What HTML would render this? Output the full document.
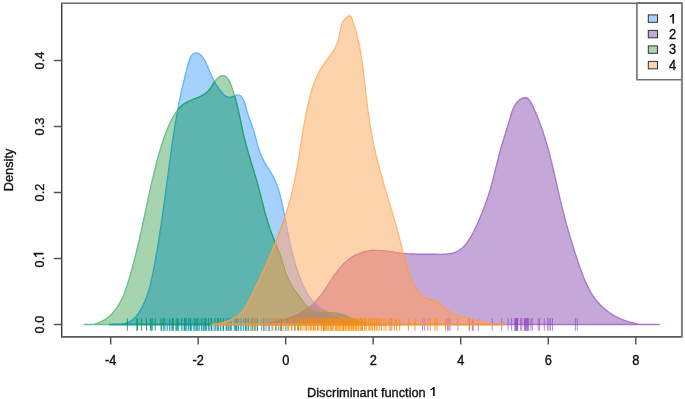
<!DOCTYPE html>
<html><head><meta charset="utf-8"><style>
html,body{margin:0;padding:0;background:#fff;width:685px;height:399px;overflow:hidden}
svg{display:block}
.t{font-family:"Liberation Sans",sans-serif;font-size:12.8px;fill:#111;stroke:#111;stroke-width:0.35px}
svg{will-change:transform;filter:blur(0.3px)}
</style></head><body>
<svg width="685" height="399" viewBox="0 0 685 399">
<defs><path id="pB" d="M109.3,324.5C109.6,324.5 110.6,324.5 111.2,324.5C111.9,324.5 112.5,324.5 113.2,324.5C113.9,324.5 114.5,324.5 115.2,324.5C115.9,324.5 116.6,324.4 117.3,324.4C117.9,324.4 118.6,324.3 119.3,324.2C120.0,324.2 120.7,324.1 121.4,324.0C122.0,323.9 122.7,323.8 123.4,323.7C124.0,323.5 124.7,323.4 125.4,323.2C126.0,323.0 126.7,322.8 127.3,322.6C127.9,322.4 128.5,322.2 129.1,321.9C129.7,321.6 130.3,321.3 130.9,321.0C131.4,320.7 132.0,320.3 132.5,319.9C133.0,319.5 133.5,319.1 134.0,318.7C134.5,318.2 135.0,317.7 135.4,317.3C135.9,316.8 136.3,316.3 136.7,315.7C137.1,315.2 137.5,314.7 137.9,314.1C138.3,313.6 138.7,313.0 139.1,312.4C139.4,311.9 139.8,311.3 140.2,310.7C140.5,310.1 140.8,309.5 141.2,309.0C141.5,308.4 141.8,307.8 142.1,307.2C142.5,306.6 142.8,306.0 143.1,305.4C143.4,304.8 143.6,304.2 143.9,303.6C144.2,303.0 144.5,302.4 144.7,301.8C145.0,301.2 145.3,300.6 145.5,299.9C145.8,299.3 146.0,298.7 146.2,298.1C146.5,297.5 146.7,296.8 146.9,296.2C147.2,295.6 147.4,294.9 147.6,294.3C147.8,293.7 148.0,293.1 148.2,292.4C148.4,291.8 148.6,291.1 148.8,290.5C149.0,289.9 149.2,289.2 149.3,288.6C149.5,287.9 149.7,287.3 149.9,286.7C150.0,286.0 150.2,285.4 150.4,284.7C150.5,284.1 150.7,283.4 150.8,282.8C151.0,282.1 151.1,281.5 151.3,280.8C151.4,280.2 151.6,279.5 151.7,278.9C151.9,278.2 152.0,277.5 152.1,276.9C152.3,276.2 152.4,275.6 152.6,274.9C152.7,274.3 152.8,273.6 153.0,272.9C153.1,272.3 153.2,271.6 153.3,271.0C153.5,270.3 153.6,269.7 153.7,269.0C153.8,268.3 154.0,267.7 154.1,267.0C154.2,266.4 154.3,265.7 154.5,265.0C154.6,264.4 154.7,263.7 154.8,263.1C155.0,262.4 155.1,261.8 155.2,261.1C155.3,260.4 155.4,259.8 155.6,259.1C155.7,258.5 155.8,257.8 155.9,257.1C156.0,256.5 156.1,255.8 156.3,255.2C156.4,254.5 156.5,253.9 156.6,253.2C156.7,252.5 156.8,251.9 156.9,251.2C157.0,250.6 157.2,249.9 157.3,249.2C157.4,248.6 157.5,247.9 157.6,247.3C157.7,246.6 157.8,245.9 157.9,245.3C158.0,244.6 158.1,244.0 158.3,243.3C158.4,242.7 158.5,242.0 158.6,241.3C158.7,240.7 158.8,240.0 158.9,239.4C159.0,238.7 159.1,238.0 159.2,237.4C159.3,236.7 159.4,236.1 159.5,235.4C159.6,234.7 159.7,234.1 159.8,233.4C159.9,232.8 160.0,232.1 160.1,231.4C160.2,230.8 160.3,230.1 160.4,229.5C160.5,228.8 160.6,228.1 160.7,227.5C160.8,226.8 160.9,226.2 161.0,225.5C161.1,224.8 161.2,224.2 161.3,223.5C161.4,222.9 161.5,222.2 161.6,221.6C161.7,220.9 161.8,220.2 161.9,219.6C162.0,218.9 162.1,218.2 162.2,217.6C162.3,216.9 162.4,216.3 162.5,215.6C162.6,214.9 162.7,214.3 162.7,213.6C162.8,213.0 162.9,212.3 163.0,211.6C163.1,211.0 163.2,210.3 163.3,209.7C163.4,209.0 163.5,208.3 163.6,207.7C163.7,207.0 163.8,206.4 163.9,205.7C163.9,205.0 164.0,204.4 164.1,203.7C164.2,203.1 164.3,202.4 164.4,201.7C164.5,201.1 164.6,200.4 164.7,199.7C164.8,199.1 164.8,198.4 164.9,197.8C165.0,197.1 165.1,196.4 165.2,195.8C165.3,195.1 165.4,194.5 165.5,193.8C165.6,193.1 165.7,192.5 165.7,191.8C165.8,191.1 165.9,190.5 166.0,189.8C166.1,189.2 166.2,188.5 166.3,187.8C166.4,187.2 166.4,186.5 166.5,185.9C166.6,185.2 166.7,184.5 166.8,183.9C166.9,183.2 167.0,182.5 167.1,181.9C167.2,181.2 167.2,180.6 167.3,179.9C167.4,179.2 167.5,178.6 167.6,177.9C167.7,177.2 167.8,176.6 167.9,175.9C167.9,175.3 168.0,174.6 168.1,173.9C168.2,173.3 168.3,172.6 168.4,171.9C168.5,171.3 168.6,170.6 168.6,169.9C168.7,169.3 168.8,168.6 168.9,168.0C169.0,167.3 169.1,166.6 169.2,166.0C169.3,165.3 169.4,164.6 169.4,164.0C169.5,163.3 169.6,162.6 169.7,162.0C169.8,161.3 169.9,160.7 170.0,160.0C170.1,159.3 170.2,158.7 170.3,158.0C170.3,157.3 170.4,156.7 170.5,156.0C170.6,155.3 170.7,154.7 170.8,154.0C170.9,153.4 171.0,152.7 171.1,152.0C171.2,151.4 171.3,150.7 171.3,150.0C171.4,149.4 171.5,148.7 171.6,148.0C171.7,147.4 171.8,146.7 171.9,146.0C172.0,145.4 172.1,144.7 172.2,144.1C172.3,143.4 172.4,142.7 172.5,142.1C172.6,141.4 172.7,140.7 172.8,140.1C172.9,139.4 173.0,138.7 173.1,138.1C173.2,137.4 173.2,136.8 173.3,136.1C173.4,135.4 173.5,134.8 173.6,134.1C173.7,133.4 173.8,132.8 173.9,132.1C174.1,131.5 174.2,130.8 174.3,130.1C174.4,129.5 174.5,128.8 174.6,128.1C174.7,127.5 174.8,126.8 174.9,126.2C175.0,125.5 175.1,124.8 175.2,124.2C175.3,123.5 175.4,122.9 175.5,122.2C175.6,121.5 175.7,120.9 175.9,120.2C176.0,119.6 176.1,118.9 176.2,118.3C176.3,117.6 176.4,116.9 176.5,116.3C176.6,115.6 176.8,115.0 176.9,114.3C177.0,113.7 177.1,113.0 177.2,112.3C177.3,111.7 177.5,111.0 177.6,110.4C177.7,109.7 177.8,109.1 178.0,108.4C178.1,107.8 178.2,107.1 178.3,106.5C178.4,105.8 178.6,105.2 178.7,104.5C178.8,103.9 179.0,103.2 179.1,102.6C179.2,101.9 179.3,101.3 179.5,100.6C179.6,100.0 179.7,99.3 179.9,98.7C180.0,98.0 180.1,97.4 180.3,96.7C180.4,96.1 180.6,95.4 180.7,94.8C180.8,94.1 181.0,93.5 181.1,92.8C181.3,92.2 181.4,91.6 181.5,90.9C181.7,90.3 181.8,89.6 182.0,89.0C182.1,88.3 182.3,87.7 182.4,87.0C182.6,86.4 182.7,85.8 182.9,85.1C183.0,84.5 183.2,83.8 183.3,83.2C183.5,82.5 183.7,81.9 183.8,81.2C184.0,80.6 184.1,79.9 184.3,79.3C184.5,78.6 184.6,78.0 184.8,77.3C184.9,76.7 185.1,76.0 185.3,75.3C185.4,74.7 185.6,74.0 185.8,73.4C185.9,72.7 186.1,72.0 186.3,71.4C186.5,70.7 186.6,70.1 186.8,69.4C187.0,68.7 187.1,68.0 187.3,67.4C187.5,66.7 187.7,66.0 187.9,65.3C188.0,64.7 188.2,64.0 188.4,63.3C188.6,62.6 188.8,61.9 189.0,61.3C189.2,60.6 189.4,59.9 189.6,59.3C189.9,58.6 190.2,58.0 190.5,57.4C190.8,56.8 191.1,56.2 191.5,55.7C191.9,55.2 192.4,54.7 192.8,54.3C193.3,53.9 193.8,53.6 194.4,53.4C194.9,53.2 195.5,53.0 196.0,53.0C196.6,53.0 197.2,53.1 197.8,53.2C198.3,53.4 198.9,53.7 199.4,54.0C199.9,54.4 200.4,54.8 200.9,55.3C201.4,55.8 201.8,56.3 202.3,56.8C202.7,57.4 203.1,57.9 203.4,58.4C203.8,59.0 204.2,59.6 204.5,60.1C204.8,60.7 205.2,61.3 205.5,61.9C205.8,62.5 206.1,63.1 206.3,63.7C206.6,64.3 206.9,64.9 207.2,65.5C207.4,66.1 207.7,66.7 207.9,67.3C208.2,68.0 208.4,68.6 208.7,69.2C209.0,69.8 209.2,70.5 209.5,71.1C209.7,71.7 210.0,72.4 210.3,73.0C210.6,73.6 210.8,74.2 211.1,74.9C211.4,75.5 211.7,76.1 212.0,76.7C212.3,77.3 212.6,78.0 212.9,78.6C213.2,79.2 213.5,79.8 213.8,80.4C214.2,81.0 214.5,81.6 214.8,82.2C215.1,82.8 215.5,83.4 215.8,84.0C216.2,84.6 216.5,85.1 216.9,85.7C217.2,86.3 217.6,86.9 218.0,87.4C218.3,88.0 218.7,88.5 219.1,89.1C219.5,89.6 219.9,90.1 220.3,90.7C220.7,91.2 221.1,91.7 221.5,92.2C221.9,92.7 222.3,93.2 222.8,93.7C223.2,94.1 223.6,94.6 224.1,95.0C224.5,95.4 225.0,95.8 225.5,96.1C226.0,96.4 226.5,96.7 227.0,96.9C227.5,97.1 228.0,97.2 228.6,97.2C229.2,97.3 229.8,97.3 230.4,97.2C231.0,97.0 231.7,96.8 232.3,96.6C233.0,96.3 233.7,96.0 234.3,95.8C235.0,95.5 235.7,95.2 236.3,95.1C237.0,94.9 237.6,94.8 238.2,94.9C238.7,94.9 239.3,95.1 239.8,95.4C240.3,95.6 240.8,96.0 241.2,96.5C241.7,96.9 242.1,97.5 242.4,98.1C242.8,98.6 243.2,99.3 243.5,100.0C243.8,100.6 244.1,101.3 244.3,102.0C244.6,102.6 244.8,103.3 245.0,104.0C245.2,104.7 245.4,105.4 245.6,106.0C245.8,106.7 246.0,107.4 246.2,108.0C246.3,108.7 246.5,109.3 246.7,110.0C246.9,110.7 247.1,111.3 247.2,111.9C247.4,112.6 247.6,113.2 247.8,113.9C248.0,114.5 248.3,115.1 248.5,115.8C248.7,116.4 248.9,117.0 249.1,117.7C249.3,118.3 249.6,118.9 249.8,119.5C250.0,120.1 250.2,120.8 250.5,121.4C250.7,122.0 250.9,122.6 251.1,123.2C251.4,123.9 251.6,124.5 251.8,125.1C252.0,125.7 252.2,126.4 252.5,127.0C252.7,127.6 252.9,128.2 253.1,128.9C253.3,129.5 253.5,130.1 253.7,130.8C253.9,131.4 254.1,132.0 254.3,132.7C254.4,133.3 254.6,134.0 254.8,134.6C255.0,135.3 255.2,135.9 255.3,136.5C255.5,137.2 255.7,137.8 255.9,138.5C256.0,139.1 256.2,139.8 256.4,140.4C256.5,141.1 256.7,141.8 256.9,142.4C257.1,143.0 257.2,143.7 257.4,144.3C257.6,145.0 257.8,145.6 258.0,146.3C258.2,146.9 258.4,147.6 258.6,148.2C258.8,148.9 259.0,149.5 259.2,150.1C259.4,150.8 259.6,151.4 259.8,152.0C260.0,152.7 260.3,153.3 260.5,153.9C260.8,154.5 261.0,155.1 261.3,155.8C261.5,156.4 261.8,157.0 262.1,157.6C262.4,158.2 262.7,158.8 263.0,159.4C263.3,160.0 263.6,160.6 263.9,161.1C264.2,161.7 264.6,162.3 264.9,162.9C265.3,163.5 265.6,164.0 265.9,164.6C266.3,165.2 266.7,165.8 267.0,166.3C267.4,166.9 267.7,167.5 268.1,168.0C268.4,168.6 268.8,169.2 269.2,169.7C269.5,170.3 269.9,170.9 270.2,171.4C270.6,172.0 270.9,172.6 271.3,173.2C271.6,173.7 271.9,174.3 272.3,174.9C272.6,175.5 272.9,176.0 273.2,176.6C273.5,177.2 273.8,177.8 274.1,178.4C274.4,179.0 274.7,179.6 274.9,180.2C275.2,180.8 275.5,181.4 275.7,182.0C276.0,182.6 276.2,183.2 276.5,183.9C276.7,184.5 277.0,185.1 277.2,185.7C277.4,186.3 277.6,187.0 277.8,187.6C278.1,188.2 278.3,188.9 278.5,189.5C278.7,190.1 278.9,190.8 279.0,191.4C279.2,192.0 279.4,192.7 279.6,193.3C279.8,193.9 279.9,194.6 280.1,195.2C280.3,195.9 280.5,196.5 280.6,197.2C280.8,197.8 280.9,198.5 281.1,199.1C281.2,199.8 281.4,200.4 281.5,201.1C281.7,201.7 281.8,202.4 282.0,203.0C282.1,203.7 282.2,204.3 282.4,205.0C282.5,205.7 282.7,206.3 282.8,207.0C282.9,207.6 283.1,208.3 283.2,208.9C283.3,209.6 283.5,210.3 283.6,210.9C283.7,211.6 283.8,212.2 284.0,212.9C284.1,213.6 284.2,214.2 284.4,214.9C284.5,215.5 284.6,216.2 284.7,216.8C284.9,217.5 285.0,218.2 285.1,218.8C285.3,219.5 285.4,220.1 285.5,220.8C285.6,221.4 285.8,222.1 285.9,222.8C286.0,223.4 286.2,224.1 286.3,224.7C286.4,225.4 286.5,226.0 286.7,226.7C286.8,227.3 286.9,228.0 287.1,228.7C287.2,229.3 287.3,230.0 287.5,230.6C287.6,231.3 287.7,231.9 287.9,232.6C288.0,233.2 288.1,233.9 288.3,234.6C288.4,235.2 288.5,235.9 288.7,236.5C288.8,237.2 288.9,237.8 289.1,238.5C289.2,239.1 289.3,239.8 289.5,240.4C289.6,241.1 289.8,241.7 289.9,242.4C290.1,243.0 290.2,243.7 290.3,244.3C290.5,245.0 290.6,245.6 290.8,246.3C290.9,246.9 291.1,247.6 291.2,248.2C291.4,248.9 291.5,249.5 291.7,250.2C291.9,250.8 292.0,251.5 292.2,252.1C292.3,252.8 292.5,253.4 292.7,254.0C292.8,254.7 293.0,255.3 293.2,256.0C293.3,256.6 293.5,257.3 293.7,257.9C293.8,258.6 294.0,259.2 294.2,259.8C294.4,260.5 294.5,261.1 294.7,261.8C294.9,262.4 295.1,263.0 295.3,263.7C295.5,264.3 295.6,265.0 295.8,265.6C296.0,266.2 296.2,266.9 296.4,267.5C296.6,268.1 296.8,268.8 297.0,269.4C297.2,270.0 297.4,270.7 297.6,271.3C297.8,271.9 298.1,272.6 298.3,273.2C298.5,273.8 298.7,274.5 298.9,275.1C299.2,275.7 299.4,276.4 299.6,277.0C299.9,277.6 300.1,278.2 300.3,278.8C300.6,279.5 300.8,280.1 301.1,280.7C301.3,281.3 301.6,281.9 301.9,282.6C302.1,283.2 302.4,283.8 302.7,284.4C302.9,285.0 303.2,285.6 303.5,286.2C303.8,286.8 304.1,287.4 304.4,288.0C304.7,288.6 305.0,289.2 305.3,289.8C305.6,290.4 305.9,291.0 306.3,291.6C306.6,292.2 306.9,292.8 307.3,293.4C307.6,293.9 308.0,294.5 308.3,295.1C308.7,295.6 309.1,296.2 309.4,296.7C309.8,297.3 310.2,297.8 310.6,298.3C311.0,298.9 311.4,299.4 311.8,299.9C312.2,300.4 312.7,300.9 313.1,301.4C313.6,301.9 314.0,302.4 314.5,302.8C314.9,303.3 315.4,303.7 315.9,304.2C316.4,304.6 316.9,305.0 317.4,305.4C317.9,305.9 318.4,306.3 318.9,306.7C319.5,307.0 320.0,307.4 320.5,307.8C321.1,308.2 321.6,308.5 322.2,308.9C322.7,309.2 323.3,309.6 323.9,309.9C324.4,310.3 325.0,310.6 325.6,310.9C326.2,311.2 326.8,311.5 327.4,311.8C328.0,312.1 328.6,312.4 329.2,312.7C329.8,313.0 330.4,313.2 331.0,313.5C331.6,313.8 332.3,314.0 332.9,314.3C333.5,314.5 334.2,314.8 334.8,315.0C335.4,315.3 336.1,315.5 336.7,315.7C337.4,315.9 338.0,316.2 338.7,316.4C339.3,316.6 340.0,316.8 340.6,317.0C341.3,317.2 341.9,317.4 342.6,317.6C343.2,317.8 343.9,318.0 344.5,318.2C345.2,318.3 345.9,318.5 346.5,318.7C347.2,318.9 347.8,319.0 348.5,319.2C349.2,319.4 349.8,319.5 350.5,319.7C351.1,319.8 351.8,320.0 352.4,320.1C353.1,320.3 353.7,320.4 354.4,320.6C355.0,320.7 355.7,320.9 356.4,321.0C357.0,321.2 357.7,321.3 358.3,321.4C359.0,321.6 359.6,321.7 360.3,321.8C360.9,321.9 361.6,322.1 362.2,322.2C362.9,322.3 363.5,322.4 364.1,322.5C364.8,322.6 365.4,322.7 366.1,322.8C366.7,322.9 367.4,323.0 368.0,323.1C368.7,323.2 369.3,323.3 370.0,323.4C370.6,323.5 371.3,323.6 371.9,323.6C372.6,323.7 373.2,323.8 373.9,323.9C374.6,323.9 375.2,324.0 375.9,324.1C376.5,324.1 377.2,324.2 377.8,324.2C378.5,324.3 379.1,324.4 379.8,324.4C380.5,324.4 381.1,324.5 381.8,324.5C382.4,324.5 383.1,324.5 383.8,324.5C384.4,324.5 385.1,324.5 385.7,324.5C386.4,324.5 387.1,324.5 387.7,324.5C388.4,324.5 389.1,324.5 389.8,324.5C390.4,324.5 391.1,324.5 391.8,324.5C392.5,324.5 393.1,324.5 393.8,324.5C394.5,324.5 395.2,324.5 395.9,324.5C396.5,324.5 397.2,324.5 397.9,324.5C398.6,324.5 399.7,324.5 400.0,324.5Z"/><path id="pP" d="M262.0,324.5C262.3,324.4 263.3,324.3 263.9,324.1C264.5,324.0 265.1,323.9 265.8,323.8C266.4,323.6 267.1,323.5 267.7,323.4C268.4,323.3 269.0,323.1 269.7,323.0C270.3,322.9 271.0,322.7 271.6,322.6C272.3,322.5 272.9,322.3 273.6,322.2C274.2,322.1 274.9,321.9 275.5,321.8C276.2,321.6 276.9,321.5 277.5,321.3C278.2,321.2 278.8,321.0 279.5,320.9C280.1,320.7 280.8,320.6 281.5,320.4C282.1,320.2 282.8,320.1 283.4,319.9C284.1,319.7 284.7,319.5 285.4,319.3C286.0,319.1 286.7,318.9 287.3,318.7C288.0,318.5 288.6,318.3 289.2,318.1C289.9,317.9 290.5,317.7 291.2,317.5C291.8,317.2 292.4,317.0 293.0,316.8C293.7,316.5 294.3,316.3 294.9,316.0C295.5,315.7 296.1,315.5 296.7,315.2C297.3,314.9 297.9,314.6 298.5,314.3C299.1,314.0 299.7,313.7 300.3,313.4C300.9,313.1 301.4,312.8 302.0,312.4C302.6,312.1 303.1,311.7 303.7,311.4C304.3,311.0 304.8,310.7 305.3,310.3C305.9,309.9 306.4,309.5 307.0,309.1C307.5,308.7 308.0,308.3 308.5,307.9C309.0,307.5 309.5,307.1 310.0,306.6C310.5,306.2 311.0,305.7 311.5,305.3C312.0,304.9 312.5,304.4 313.0,303.9C313.5,303.5 313.9,303.0 314.4,302.5C314.9,302.0 315.3,301.6 315.8,301.1C316.2,300.6 316.7,300.1 317.1,299.6C317.6,299.1 318.0,298.6 318.4,298.1C318.9,297.6 319.3,297.1 319.7,296.5C320.1,296.0 320.6,295.5 321.0,295.0C321.4,294.4 321.8,293.9 322.2,293.4C322.6,292.8 323.0,292.3 323.4,291.7C323.8,291.2 324.1,290.7 324.5,290.1C324.9,289.6 325.3,289.0 325.6,288.5C326.0,287.9 326.4,287.4 326.8,286.8C327.1,286.3 327.5,285.7 327.8,285.1C328.2,284.6 328.6,284.0 328.9,283.5C329.3,282.9 329.6,282.4 330.0,281.8C330.4,281.2 330.7,280.7 331.1,280.1C331.4,279.6 331.8,279.0 332.2,278.5C332.5,277.9 332.9,277.4 333.3,276.8C333.6,276.3 334.0,275.7 334.4,275.2C334.8,274.6 335.1,274.1 335.5,273.5C335.9,273.0 336.3,272.4 336.7,271.9C337.1,271.4 337.5,270.8 337.9,270.3C338.3,269.8 338.8,269.2 339.2,268.7C339.6,268.2 340.1,267.7 340.5,267.1C341.0,266.6 341.4,266.1 341.9,265.6C342.3,265.1 342.8,264.6 343.3,264.2C343.8,263.7 344.2,263.2 344.7,262.7C345.2,262.3 345.7,261.8 346.2,261.4C346.7,260.9 347.2,260.5 347.8,260.1C348.3,259.6 348.8,259.2 349.4,258.8C349.9,258.4 350.4,258.0 351.0,257.7C351.5,257.3 352.1,256.9 352.7,256.6C353.2,256.3 353.8,255.9 354.4,255.6C355.0,255.3 355.6,255.0 356.2,254.7C356.8,254.4 357.4,254.1 358.0,253.9C358.6,253.6 359.2,253.4 359.8,253.1C360.4,252.9 361.0,252.7 361.7,252.5C362.3,252.3 362.9,252.1 363.5,251.9C364.2,251.7 364.8,251.6 365.5,251.4C366.1,251.3 366.8,251.1 367.4,251.0C368.0,250.9 368.7,250.8 369.4,250.7C370.0,250.6 370.7,250.5 371.3,250.4C372.0,250.4 372.6,250.3 373.3,250.3C374.0,250.2 374.6,250.2 375.3,250.2C376.0,250.2 376.6,250.2 377.3,250.2C378.0,250.2 378.6,250.2 379.3,250.3C380.0,250.3 380.6,250.3 381.3,250.4C382.0,250.4 382.7,250.5 383.3,250.6C384.0,250.6 384.7,250.7 385.4,250.8C386.0,250.8 386.7,250.9 387.4,251.0C388.0,251.1 388.7,251.2 389.4,251.3C390.1,251.4 390.7,251.5 391.4,251.6C392.1,251.7 392.8,251.8 393.4,251.9C394.1,252.0 394.8,252.1 395.4,252.2C396.1,252.3 396.8,252.4 397.4,252.5C398.1,252.6 398.8,252.7 399.4,252.8C400.1,252.9 400.8,253.0 401.4,253.1C402.1,253.2 402.8,253.3 403.4,253.3C404.1,253.4 404.7,253.5 405.4,253.5C406.0,253.6 406.7,253.6 407.3,253.7C408.0,253.8 408.6,253.8 409.3,253.8C410.0,253.9 410.6,253.9 411.3,254.0C411.9,254.0 412.6,254.0 413.2,254.0C413.9,254.1 414.5,254.1 415.2,254.1C415.8,254.1 416.5,254.1 417.1,254.2C417.8,254.2 418.4,254.2 419.1,254.2C419.7,254.2 420.4,254.2 421.0,254.2C421.7,254.2 422.4,254.2 423.0,254.2C423.7,254.2 424.3,254.2 425.0,254.2C425.7,254.2 426.3,254.2 427.0,254.2C427.7,254.2 428.3,254.2 429.0,254.2C429.7,254.2 430.3,254.2 431.0,254.2C431.7,254.2 432.4,254.2 433.1,254.2C433.8,254.2 434.4,254.2 435.1,254.2C435.8,254.2 436.5,254.3 437.2,254.3C437.9,254.3 438.6,254.3 439.3,254.3C440.0,254.3 440.7,254.3 441.4,254.3C442.1,254.3 442.8,254.2 443.5,254.2C444.2,254.2 444.9,254.2 445.6,254.1C446.3,254.1 446.9,254.0 447.6,253.9C448.3,253.9 449.0,253.8 449.6,253.7C450.3,253.6 451.0,253.5 451.6,253.3C452.2,253.2 452.9,253.0 453.5,252.9C454.1,252.7 454.7,252.5 455.3,252.3C455.9,252.0 456.5,251.8 457.1,251.5C457.7,251.2 458.2,250.9 458.8,250.6C459.3,250.2 459.9,249.9 460.4,249.5C460.9,249.1 461.4,248.7 461.9,248.3C462.4,247.9 462.9,247.4 463.3,246.9C463.8,246.5 464.2,246.0 464.7,245.5C465.1,245.0 465.5,244.5 466.0,244.0C466.4,243.4 466.8,242.9 467.2,242.4C467.6,241.8 468.0,241.3 468.4,240.7C468.7,240.1 469.1,239.6 469.5,239.0C469.8,238.4 470.2,237.9 470.5,237.3C470.9,236.7 471.2,236.1 471.6,235.5C471.9,235.0 472.2,234.4 472.5,233.8C472.9,233.2 473.2,232.6 473.5,232.0C473.8,231.4 474.1,230.8 474.4,230.2C474.7,229.6 475.0,229.0 475.3,228.4C475.5,227.8 475.8,227.2 476.1,226.6C476.4,226.0 476.7,225.4 476.9,224.8C477.2,224.2 477.5,223.6 477.8,222.9C478.0,222.3 478.3,221.7 478.6,221.1C478.8,220.5 479.1,219.9 479.3,219.3C479.6,218.7 479.9,218.0 480.1,217.4C480.4,216.8 480.6,216.2 480.9,215.6C481.1,215.0 481.4,214.3 481.6,213.7C481.9,213.1 482.1,212.5 482.4,211.9C482.6,211.2 482.9,210.6 483.1,210.0C483.4,209.4 483.6,208.8 483.9,208.1C484.1,207.5 484.3,206.9 484.6,206.3C484.8,205.7 485.0,205.0 485.3,204.4C485.5,203.8 485.7,203.2 485.9,202.5C486.2,201.9 486.4,201.3 486.6,200.6C486.8,200.0 487.1,199.4 487.3,198.8C487.5,198.1 487.7,197.5 487.9,196.9C488.1,196.2 488.3,195.6 488.5,195.0C488.7,194.3 488.9,193.7 489.1,193.1C489.3,192.4 489.5,191.8 489.7,191.1C489.9,190.5 490.1,189.9 490.3,189.2C490.4,188.6 490.6,187.9 490.8,187.3C491.0,186.7 491.2,186.0 491.3,185.4C491.5,184.7 491.7,184.1 491.9,183.5C492.0,182.8 492.2,182.2 492.4,181.5C492.6,180.9 492.7,180.2 492.9,179.6C493.1,178.9 493.2,178.3 493.4,177.7C493.6,177.0 493.7,176.4 493.9,175.7C494.1,175.1 494.2,174.4 494.4,173.8C494.5,173.1 494.7,172.5 494.9,171.8C495.0,171.2 495.2,170.5 495.3,169.9C495.5,169.2 495.7,168.6 495.8,167.9C496.0,167.3 496.1,166.6 496.3,166.0C496.5,165.3 496.6,164.7 496.8,164.0C497.0,163.4 497.1,162.8 497.3,162.1C497.4,161.5 497.6,160.8 497.8,160.2C497.9,159.5 498.1,158.9 498.3,158.2C498.4,157.6 498.6,156.9 498.8,156.3C498.9,155.6 499.1,155.0 499.3,154.3C499.4,153.7 499.6,153.0 499.8,152.4C500.0,151.7 500.1,151.1 500.3,150.4C500.5,149.8 500.7,149.2 500.8,148.5C501.0,147.9 501.2,147.2 501.4,146.6C501.6,145.9 501.8,145.3 502.0,144.7C502.2,144.0 502.3,143.4 502.5,142.7C502.7,142.1 502.9,141.4 503.1,140.8C503.3,140.2 503.5,139.5 503.7,138.9C503.9,138.2 504.1,137.6 504.3,137.0C504.5,136.3 504.7,135.7 504.9,135.1C505.1,134.4 505.3,133.8 505.5,133.1C505.7,132.5 505.9,131.9 506.1,131.2C506.3,130.6 506.5,130.0 506.7,129.3C506.9,128.7 507.1,128.1 507.3,127.4C507.5,126.8 507.7,126.2 507.9,125.5C508.1,124.9 508.3,124.3 508.5,123.6C508.7,123.0 508.9,122.4 509.0,121.8C509.2,121.1 509.4,120.5 509.6,119.9C509.8,119.2 509.9,118.6 510.1,118.0C510.3,117.4 510.5,116.7 510.6,116.1C510.8,115.5 511.0,114.9 511.2,114.2C511.4,113.6 511.6,113.0 511.8,112.4C512.0,111.8 512.2,111.1 512.5,110.5C512.7,109.9 512.9,109.3 513.2,108.7C513.5,108.1 513.8,107.5 514.1,106.9C514.4,106.3 514.8,105.7 515.1,105.1C515.5,104.5 515.9,103.9 516.4,103.3C516.8,102.7 517.3,102.1 517.8,101.6C518.3,101.0 518.8,100.5 519.4,100.1C520.0,99.6 520.6,99.2 521.2,98.8C521.9,98.5 522.6,98.2 523.2,98.0C523.9,97.8 524.6,97.7 525.2,97.7C525.8,97.7 526.3,97.8 526.8,98.0C527.4,98.2 527.8,98.5 528.2,98.8C528.7,99.2 529.1,99.6 529.4,100.1C529.8,100.6 530.1,101.1 530.5,101.6C530.8,102.2 531.1,102.8 531.4,103.4C531.7,104.0 532.0,104.6 532.3,105.2C532.6,105.8 532.9,106.4 533.2,107.0C533.5,107.6 533.7,108.2 534.0,108.9C534.3,109.5 534.6,110.1 534.8,110.7C535.1,111.3 535.4,111.9 535.7,112.5C535.9,113.1 536.2,113.8 536.4,114.4C536.7,115.0 537.0,115.6 537.2,116.2C537.5,116.9 537.7,117.5 538.0,118.1C538.2,118.7 538.5,119.3 538.7,120.0C539.0,120.6 539.2,121.2 539.4,121.8C539.7,122.5 539.9,123.1 540.1,123.7C540.4,124.3 540.6,125.0 540.8,125.6C541.0,126.2 541.3,126.9 541.5,127.5C541.7,128.1 541.9,128.8 542.1,129.4C542.4,130.0 542.6,130.7 542.8,131.3C543.0,131.9 543.2,132.6 543.4,133.2C543.6,133.8 543.8,134.5 544.0,135.1C544.2,135.7 544.4,136.4 544.6,137.0C544.8,137.7 545.0,138.3 545.2,138.9C545.4,139.6 545.6,140.2 545.8,140.9C546.0,141.5 546.2,142.1 546.4,142.8C546.6,143.4 546.7,144.1 546.9,144.7C547.1,145.4 547.3,146.0 547.5,146.6C547.7,147.3 547.8,147.9 548.0,148.6C548.2,149.2 548.4,149.9 548.5,150.5C548.7,151.2 548.9,151.8 549.1,152.5C549.2,153.1 549.4,153.8 549.6,154.4C549.7,155.0 549.9,155.7 550.1,156.3C550.2,157.0 550.4,157.6 550.6,158.3C550.7,158.9 550.9,159.6 551.0,160.2C551.2,160.9 551.4,161.5 551.5,162.2C551.7,162.8 551.8,163.5 552.0,164.1C552.2,164.8 552.3,165.4 552.5,166.1C552.6,166.7 552.8,167.4 552.9,168.1C553.1,168.7 553.2,169.4 553.4,170.0C553.6,170.7 553.7,171.3 553.9,172.0C554.0,172.6 554.2,173.3 554.3,173.9C554.5,174.6 554.6,175.2 554.8,175.9C554.9,176.5 555.1,177.2 555.2,177.8C555.4,178.5 555.5,179.1 555.7,179.8C555.8,180.4 556.0,181.1 556.1,181.7C556.3,182.4 556.4,183.1 556.6,183.7C556.7,184.4 556.8,185.0 557.0,185.7C557.1,186.3 557.3,187.0 557.4,187.6C557.6,188.3 557.7,188.9 557.9,189.6C558.0,190.2 558.2,190.9 558.3,191.5C558.5,192.2 558.6,192.8 558.8,193.5C558.9,194.1 559.1,194.8 559.2,195.4C559.4,196.1 559.5,196.7 559.7,197.4C559.8,198.0 560.0,198.7 560.1,199.3C560.3,200.0 560.4,200.6 560.6,201.3C560.8,201.9 560.9,202.5 561.1,203.2C561.2,203.8 561.4,204.5 561.5,205.1C561.7,205.8 561.8,206.4 562.0,207.1C562.2,207.7 562.3,208.4 562.5,209.0C562.6,209.6 562.8,210.3 563.0,210.9C563.1,211.6 563.3,212.2 563.5,212.9C563.6,213.5 563.8,214.1 564.0,214.8C564.1,215.4 564.3,216.1 564.5,216.7C564.6,217.3 564.8,218.0 565.0,218.6C565.1,219.3 565.3,219.9 565.5,220.5C565.7,221.2 565.8,221.8 566.0,222.5C566.2,223.1 566.3,223.7 566.5,224.4C566.7,225.0 566.9,225.6 567.1,226.3C567.2,226.9 567.4,227.6 567.6,228.2C567.8,228.8 568.0,229.5 568.1,230.1C568.3,230.7 568.5,231.4 568.7,232.0C568.9,232.7 569.1,233.3 569.2,233.9C569.4,234.6 569.6,235.2 569.8,235.8C570.0,236.5 570.2,237.1 570.4,237.8C570.6,238.4 570.7,239.0 570.9,239.7C571.1,240.3 571.3,240.9 571.5,241.6C571.7,242.2 571.9,242.9 572.1,243.5C572.3,244.1 572.5,244.8 572.7,245.4C572.9,246.0 573.1,246.7 573.3,247.3C573.5,248.0 573.7,248.6 573.9,249.2C574.1,249.9 574.3,250.5 574.5,251.2C574.7,251.8 574.9,252.4 575.1,253.1C575.3,253.7 575.5,254.3 575.7,255.0C576.0,255.6 576.2,256.3 576.4,256.9C576.6,257.5 576.8,258.2 577.0,258.8C577.2,259.5 577.4,260.1 577.7,260.8C577.9,261.4 578.1,262.0 578.3,262.7C578.5,263.3 578.7,264.0 579.0,264.6C579.2,265.3 579.4,265.9 579.6,266.5C579.9,267.2 580.1,267.8 580.3,268.5C580.5,269.1 580.8,269.8 581.0,270.4C581.2,271.0 581.5,271.7 581.7,272.3C581.9,273.0 582.2,273.6 582.4,274.2C582.7,274.9 582.9,275.5 583.2,276.1C583.4,276.8 583.7,277.4 583.9,278.0C584.2,278.7 584.4,279.3 584.7,279.9C585.0,280.5 585.2,281.1 585.5,281.8C585.8,282.4 586.1,283.0 586.3,283.6C586.6,284.2 586.9,284.8 587.2,285.4C587.5,286.0 587.8,286.6 588.1,287.2C588.4,287.8 588.7,288.4 589.0,289.0C589.3,289.6 589.6,290.2 590.0,290.8C590.3,291.3 590.6,291.9 590.9,292.5C591.3,293.1 591.6,293.6 592.0,294.2C592.3,294.7 592.7,295.3 593.0,295.8C593.4,296.4 593.8,296.9 594.1,297.5C594.5,298.0 594.9,298.5 595.3,299.1C595.7,299.6 596.1,300.1 596.5,300.6C596.9,301.1 597.3,301.6 597.7,302.1C598.2,302.6 598.6,303.1 599.0,303.6C599.5,304.1 599.9,304.6 600.4,305.0C600.8,305.5 601.3,306.0 601.8,306.4C602.2,306.9 602.7,307.3 603.2,307.7C603.7,308.2 604.2,308.6 604.7,309.0C605.2,309.5 605.7,309.9 606.2,310.3C606.7,310.7 607.3,311.1 607.8,311.5C608.3,311.9 608.9,312.2 609.4,312.6C610.0,313.0 610.5,313.4 611.1,313.7C611.6,314.1 612.2,314.4 612.8,314.8C613.3,315.1 613.9,315.4 614.5,315.8C615.1,316.1 615.7,316.4 616.3,316.7C616.9,317.0 617.4,317.3 618.1,317.6C618.7,317.9 619.3,318.2 619.9,318.5C620.5,318.8 621.1,319.0 621.7,319.3C622.3,319.5 623.0,319.8 623.6,320.0C624.2,320.3 624.9,320.5 625.5,320.7C626.1,321.0 626.8,321.2 627.4,321.4C628.1,321.6 628.7,321.8 629.3,322.0C630.0,322.2 630.6,322.4 631.3,322.5C632.0,322.7 632.6,322.9 633.3,323.0C633.9,323.2 634.6,323.3 635.2,323.5C635.9,323.6 636.6,323.7 637.2,323.9C637.9,324.0 638.6,324.1 639.2,324.2C639.9,324.3 640.6,324.4 641.2,324.5C641.9,324.5 642.6,324.5 643.2,324.5C643.9,324.5 644.6,324.5 645.3,324.5C645.9,324.5 646.6,324.5 647.3,324.5C647.9,324.5 648.6,324.5 649.3,324.5C649.9,324.5 650.6,324.5 651.3,324.5C651.9,324.5 652.6,324.5 653.3,324.5C653.9,324.5 654.6,324.5 655.3,324.5C655.9,324.5 656.6,324.5 657.2,324.5C657.9,324.5 658.9,324.5 659.2,324.5Z"/><path id="pG" d="M84.3,324.5C84.7,324.5 85.7,324.5 86.4,324.5C87.2,324.5 87.9,324.5 88.6,324.5C89.2,324.5 89.9,324.5 90.6,324.5C91.3,324.5 92.0,324.6 92.6,324.5C93.3,324.4 94.0,324.3 94.6,324.1C95.2,324.0 95.9,323.8 96.5,323.6C97.2,323.4 97.8,323.2 98.4,323.0C99.0,322.8 99.6,322.5 100.2,322.2C100.8,322.0 101.4,321.7 102.0,321.4C102.6,321.1 103.1,320.8 103.7,320.4C104.3,320.1 104.8,319.7 105.4,319.4C105.9,319.0 106.4,318.6 107.0,318.2C107.5,317.8 108.0,317.4 108.5,317.0C109.0,316.5 109.5,316.1 110.0,315.7C110.5,315.2 111.0,314.7 111.4,314.3C111.9,313.8 112.4,313.3 112.8,312.8C113.2,312.3 113.7,311.8 114.1,311.3C114.5,310.8 114.9,310.3 115.3,309.8C115.7,309.2 116.1,308.7 116.5,308.2C116.9,307.6 117.3,307.1 117.6,306.5C118.0,306.0 118.4,305.4 118.7,304.8C119.0,304.3 119.4,303.7 119.7,303.1C120.0,302.6 120.3,302.0 120.6,301.4C120.9,300.8 121.2,300.2 121.5,299.6C121.8,299.0 122.1,298.4 122.4,297.8C122.7,297.2 122.9,296.6 123.2,296.0C123.4,295.4 123.7,294.8 124.0,294.2C124.2,293.6 124.4,292.9 124.7,292.3C124.9,291.7 125.2,291.1 125.4,290.4C125.6,289.8 125.8,289.2 126.1,288.5C126.3,287.9 126.5,287.3 126.7,286.6C126.9,286.0 127.1,285.4 127.3,284.7C127.5,284.1 127.7,283.4 127.9,282.8C128.1,282.2 128.3,281.5 128.5,280.9C128.7,280.2 128.9,279.6 129.1,278.9C129.3,278.3 129.5,277.7 129.7,277.0C129.9,276.4 130.1,275.7 130.3,275.1C130.4,274.4 130.6,273.8 130.8,273.1C131.0,272.5 131.2,271.9 131.4,271.2C131.5,270.6 131.7,269.9 131.9,269.3C132.1,268.6 132.2,268.0 132.4,267.3C132.6,266.7 132.8,266.0 132.9,265.4C133.1,264.7 133.3,264.1 133.5,263.5C133.6,262.8 133.8,262.2 134.0,261.5C134.1,260.9 134.3,260.2 134.5,259.6C134.6,258.9 134.8,258.3 135.0,257.6C135.1,257.0 135.3,256.3 135.5,255.7C135.6,255.0 135.8,254.4 135.9,253.7C136.1,253.1 136.3,252.4 136.4,251.8C136.6,251.1 136.7,250.5 136.9,249.8C137.0,249.2 137.2,248.6 137.3,247.9C137.5,247.3 137.7,246.6 137.8,246.0C138.0,245.3 138.1,244.7 138.3,244.0C138.4,243.4 138.6,242.7 138.7,242.1C138.9,241.4 139.0,240.8 139.2,240.1C139.3,239.5 139.5,238.8 139.6,238.2C139.8,237.5 139.9,236.9 140.0,236.2C140.2,235.6 140.3,234.9 140.5,234.3C140.6,233.6 140.8,233.0 140.9,232.3C141.1,231.7 141.2,231.0 141.4,230.4C141.5,229.7 141.6,229.0 141.8,228.4C141.9,227.7 142.1,227.1 142.2,226.4C142.3,225.8 142.5,225.1 142.6,224.5C142.8,223.8 142.9,223.2 143.1,222.5C143.2,221.9 143.3,221.2 143.5,220.6C143.6,219.9 143.8,219.3 143.9,218.6C144.0,218.0 144.2,217.3 144.3,216.7C144.4,216.0 144.6,215.4 144.7,214.7C144.9,214.1 145.0,213.4 145.1,212.8C145.3,212.1 145.4,211.5 145.6,210.8C145.7,210.2 145.8,209.5 146.0,208.9C146.1,208.2 146.3,207.6 146.4,206.9C146.5,206.3 146.7,205.6 146.8,205.0C147.0,204.3 147.1,203.7 147.2,203.0C147.4,202.4 147.5,201.7 147.7,201.1C147.8,200.4 147.9,199.8 148.1,199.1C148.2,198.5 148.4,197.8 148.5,197.2C148.6,196.5 148.8,195.9 148.9,195.2C149.1,194.6 149.2,193.9 149.4,193.3C149.5,192.6 149.6,192.0 149.8,191.3C149.9,190.7 150.1,190.0 150.2,189.4C150.4,188.7 150.5,188.1 150.7,187.4C150.8,186.8 150.9,186.1 151.1,185.5C151.2,184.8 151.4,184.2 151.5,183.5C151.7,182.9 151.8,182.2 152.0,181.6C152.1,180.9 152.3,180.3 152.4,179.6C152.6,179.0 152.7,178.3 152.9,177.7C153.0,177.0 153.2,176.4 153.4,175.7C153.5,175.1 153.7,174.4 153.8,173.8C154.0,173.1 154.1,172.5 154.3,171.8C154.4,171.2 154.6,170.6 154.8,169.9C154.9,169.3 155.1,168.6 155.2,168.0C155.4,167.3 155.6,166.7 155.7,166.0C155.9,165.4 156.1,164.7 156.2,164.1C156.4,163.4 156.6,162.8 156.7,162.2C156.9,161.5 157.1,160.9 157.2,160.2C157.4,159.6 157.6,158.9 157.8,158.3C157.9,157.6 158.1,157.0 158.3,156.4C158.5,155.7 158.6,155.1 158.8,154.4C159.0,153.8 159.2,153.1 159.4,152.5C159.5,151.9 159.7,151.2 159.9,150.6C160.1,149.9 160.3,149.3 160.5,148.6C160.7,148.0 160.9,147.4 161.1,146.7C161.3,146.1 161.4,145.5 161.6,144.8C161.9,144.2 162.1,143.5 162.3,142.9C162.5,142.3 162.7,141.6 162.9,141.0C163.1,140.4 163.3,139.7 163.5,139.1C163.8,138.5 164.0,137.9 164.2,137.2C164.4,136.6 164.6,136.0 164.9,135.3C165.1,134.7 165.3,134.1 165.6,133.5C165.8,132.8 166.1,132.2 166.3,131.6C166.6,131.0 166.8,130.4 167.1,129.7C167.3,129.1 167.6,128.5 167.8,127.9C168.1,127.3 168.4,126.7 168.6,126.0C168.9,125.4 169.2,124.8 169.5,124.2C169.7,123.6 170.0,123.0 170.3,122.4C170.6,121.8 170.9,121.2 171.2,120.6C171.5,120.0 171.8,119.4 172.1,118.8C172.4,118.2 172.7,117.6 173.1,117.0C173.4,116.4 173.7,115.8 174.1,115.2C174.4,114.6 174.7,114.1 175.1,113.5C175.5,112.9 175.8,112.4 176.2,111.9C176.6,111.3 177.0,110.8 177.4,110.3C177.8,109.7 178.2,109.2 178.6,108.7C179.1,108.2 179.5,107.8 180.0,107.3C180.4,106.8 180.9,106.4 181.4,106.0C181.9,105.5 182.4,105.1 183.0,104.8C183.5,104.4 184.0,104.0 184.6,103.6C185.2,103.3 185.7,103.0 186.3,102.6C186.9,102.3 187.5,102.0 188.1,101.7C188.7,101.4 189.3,101.1 190.0,100.8C190.6,100.5 191.2,100.3 191.8,100.0C192.5,99.7 193.1,99.5 193.7,99.2C194.4,98.9 195.0,98.7 195.6,98.4C196.3,98.2 196.9,97.9 197.5,97.6C198.1,97.4 198.8,97.1 199.4,96.8C200.0,96.5 200.6,96.3 201.2,96.0C201.7,95.7 202.3,95.4 202.9,95.1C203.5,94.7 204.0,94.4 204.5,94.0C205.1,93.7 205.6,93.3 206.1,92.9C206.6,92.5 207.1,92.1 207.6,91.7C208.1,91.2 208.5,90.7 208.9,90.2C209.4,89.7 209.8,89.2 210.2,88.6C210.6,88.1 211.0,87.5 211.3,86.9C211.7,86.3 212.1,85.7 212.5,85.1C212.8,84.5 213.2,83.9 213.6,83.3C214.0,82.7 214.4,82.0 214.8,81.5C215.2,80.9 215.7,80.3 216.1,79.8C216.6,79.3 217.0,78.7 217.5,78.3C218.0,77.8 218.5,77.4 219.0,77.0C219.5,76.7 220.0,76.3 220.5,76.1C221.0,75.9 221.6,75.7 222.1,75.6C222.6,75.6 223.1,75.6 223.6,75.7C224.1,75.7 224.6,75.9 225.1,76.1C225.5,76.4 226.0,76.7 226.4,77.0C226.8,77.4 227.2,77.8 227.6,78.3C228.0,78.8 228.3,79.3 228.6,79.8C229.0,80.4 229.3,81.0 229.6,81.6C229.9,82.2 230.2,82.9 230.4,83.5C230.7,84.2 231.0,84.9 231.2,85.5C231.5,86.2 231.7,86.9 231.9,87.6C232.2,88.3 232.4,89.0 232.6,89.7C232.9,90.4 233.1,91.1 233.3,91.7C233.5,92.4 233.7,93.1 233.9,93.8C234.1,94.5 234.3,95.1 234.5,95.8C234.7,96.5 234.9,97.1 235.1,97.8C235.3,98.5 235.5,99.2 235.7,99.8C235.8,100.5 236.0,101.2 236.2,101.8C236.4,102.5 236.5,103.1 236.7,103.8C236.9,104.5 237.0,105.1 237.2,105.8C237.3,106.4 237.5,107.1 237.6,107.7C237.8,108.4 238.0,109.0 238.1,109.7C238.3,110.3 238.4,111.0 238.5,111.6C238.7,112.3 238.8,112.9 239.0,113.6C239.1,114.2 239.3,114.9 239.4,115.5C239.5,116.2 239.7,116.8 239.8,117.5C240.0,118.1 240.1,118.7 240.2,119.4C240.4,120.0 240.5,120.7 240.6,121.3C240.8,121.9 240.9,122.6 241.0,123.2C241.2,123.9 241.3,124.5 241.4,125.1C241.6,125.8 241.7,126.4 241.8,127.0C242.0,127.7 242.1,128.3 242.3,129.0C242.4,129.6 242.5,130.2 242.7,130.9C242.8,131.5 242.9,132.1 243.1,132.8C243.2,133.4 243.4,134.0 243.5,134.7C243.7,135.3 243.8,136.0 244.0,136.6C244.1,137.2 244.3,137.9 244.4,138.5C244.6,139.1 244.7,139.8 244.9,140.4C245.1,141.1 245.2,141.7 245.4,142.3C245.6,143.0 245.7,143.6 245.9,144.2C246.1,144.9 246.2,145.5 246.4,146.2C246.6,146.8 246.8,147.4 247.0,148.1C247.1,148.7 247.3,149.4 247.5,150.0C247.7,150.7 247.9,151.3 248.0,151.9C248.2,152.6 248.4,153.2 248.6,153.9C248.8,154.5 249.0,155.1 249.2,155.8C249.4,156.4 249.6,157.1 249.8,157.7C250.0,158.4 250.1,159.0 250.3,159.7C250.5,160.3 250.7,160.9 250.9,161.6C251.1,162.2 251.3,162.9 251.5,163.5C251.7,164.2 251.9,164.8 252.1,165.5C252.3,166.1 252.5,166.7 252.7,167.4C252.9,168.0 253.1,168.7 253.3,169.3C253.5,170.0 253.7,170.6 253.9,171.3C254.1,171.9 254.3,172.6 254.4,173.2C254.6,173.8 254.8,174.5 255.0,175.1C255.2,175.8 255.4,176.4 255.6,177.1C255.8,177.7 256.0,178.4 256.2,179.0C256.3,179.7 256.5,180.3 256.7,181.0C256.9,181.6 257.1,182.2 257.2,182.9C257.4,183.5 257.6,184.2 257.8,184.8C258.0,185.5 258.1,186.1 258.3,186.8C258.5,187.4 258.6,188.1 258.8,188.7C259.0,189.4 259.2,190.0 259.3,190.6C259.5,191.3 259.7,191.9 259.8,192.6C260.0,193.2 260.2,193.9 260.3,194.5C260.5,195.2 260.7,195.8 260.8,196.5C261.0,197.1 261.1,197.7 261.3,198.4C261.5,199.0 261.6,199.7 261.8,200.3C262.0,201.0 262.1,201.6 262.3,202.2C262.5,202.9 262.6,203.5 262.8,204.2C263.0,204.8 263.1,205.5 263.3,206.1C263.5,206.7 263.6,207.4 263.8,208.0C264.0,208.7 264.1,209.3 264.3,209.9C264.5,210.6 264.6,211.2 264.8,211.9C265.0,212.5 265.2,213.1 265.3,213.8C265.5,214.4 265.7,215.0 265.9,215.7C266.1,216.3 266.2,217.0 266.4,217.6C266.6,218.2 266.8,218.9 267.0,219.5C267.2,220.1 267.4,220.8 267.5,221.4C267.7,222.0 267.9,222.7 268.1,223.3C268.3,223.9 268.5,224.6 268.7,225.2C268.9,225.8 269.1,226.4 269.4,227.1C269.6,227.7 269.8,228.3 270.0,229.0C270.2,229.6 270.4,230.2 270.6,230.8C270.9,231.5 271.1,232.1 271.3,232.7C271.5,233.3 271.8,234.0 272.0,234.6C272.3,235.2 272.5,235.8 272.7,236.4C273.0,237.1 273.2,237.7 273.5,238.3C273.7,238.9 274.0,239.5 274.2,240.2C274.5,240.8 274.8,241.4 275.0,242.0C275.3,242.6 275.5,243.3 275.8,243.9C276.0,244.5 276.3,245.1 276.6,245.7C276.8,246.4 277.1,247.0 277.3,247.6C277.6,248.2 277.8,248.8 278.1,249.5C278.4,250.1 278.6,250.7 278.9,251.3C279.1,252.0 279.3,252.6 279.6,253.2C279.8,253.9 280.1,254.5 280.3,255.1C280.5,255.8 280.8,256.4 281.0,257.0C281.2,257.7 281.4,258.3 281.6,258.9C281.8,259.6 282.0,260.2 282.2,260.9C282.4,261.5 282.6,262.2 282.8,262.8C283.0,263.4 283.2,264.1 283.4,264.7C283.6,265.4 283.8,266.0 284.0,266.7C284.2,267.3 284.4,268.0 284.6,268.6C284.8,269.2 285.0,269.9 285.2,270.5C285.4,271.1 285.6,271.8 285.8,272.4C286.0,273.0 286.2,273.7 286.5,274.3C286.7,274.9 286.9,275.5 287.2,276.1C287.4,276.7 287.6,277.4 287.9,278.0C288.1,278.6 288.4,279.2 288.7,279.7C288.9,280.3 289.2,280.9 289.5,281.5C289.8,282.1 290.1,282.7 290.4,283.2C290.8,283.8 291.1,284.4 291.4,284.9C291.7,285.5 292.1,286.0 292.4,286.6C292.8,287.1 293.1,287.7 293.5,288.2C293.9,288.8 294.2,289.3 294.6,289.8C295.0,290.4 295.4,290.9 295.8,291.5C296.1,292.0 296.5,292.6 296.9,293.1C297.3,293.7 297.7,294.2 298.1,294.8C298.5,295.3 298.9,295.9 299.3,296.4C299.7,297.0 300.1,297.5 300.6,298.1C301.0,298.6 301.4,299.2 301.8,299.8C302.2,300.3 302.6,300.9 303.0,301.5C303.4,302.0 303.9,302.6 304.3,303.1C304.7,303.7 305.2,304.2 305.6,304.7C306.1,305.2 306.5,305.7 307.0,306.2C307.5,306.6 308.0,307.1 308.5,307.5C309.0,307.9 309.5,308.3 310.0,308.7C310.5,309.0 311.1,309.3 311.6,309.6C312.2,309.9 312.8,310.2 313.4,310.4C314.0,310.7 314.6,310.9 315.2,311.0C315.8,311.2 316.4,311.4 317.1,311.5C317.7,311.7 318.4,311.8 319.0,311.9C319.7,312.0 320.3,312.1 321.0,312.1C321.7,312.2 322.3,312.3 323.0,312.3C323.7,312.4 324.4,312.4 325.1,312.4C325.7,312.5 326.4,312.5 327.1,312.5C327.8,312.5 328.5,312.5 329.2,312.6C329.8,312.6 330.5,312.6 331.2,312.6C331.9,312.6 332.5,312.7 333.2,312.7C333.8,312.7 334.5,312.8 335.2,312.8C335.8,312.9 336.5,313.0 337.1,313.0C337.7,313.1 338.4,313.2 339.0,313.3C339.6,313.5 340.3,313.6 340.9,313.7C341.5,313.9 342.1,314.1 342.8,314.3C343.4,314.5 344.0,314.7 344.6,315.0C345.2,315.2 345.8,315.5 346.4,315.8C347.0,316.1 347.6,316.4 348.2,316.7C348.8,317.0 349.4,317.4 350.0,317.7C350.6,318.0 351.2,318.4 351.8,318.7C352.4,319.0 353.0,319.3 353.6,319.6C354.2,319.9 354.8,320.2 355.4,320.4C356.1,320.7 356.7,320.9 357.3,321.2C357.9,321.4 358.6,321.6 359.2,321.8C359.8,322.0 360.5,322.1 361.1,322.3C361.8,322.5 362.4,322.6 363.1,322.7C363.7,322.9 364.4,323.0 365.0,323.1C365.7,323.2 366.4,323.3 367.0,323.4C367.7,323.5 368.3,323.5 369.0,323.6C369.7,323.7 370.3,323.7 371.0,323.8C371.7,323.8 372.3,323.9 373.0,323.9C373.7,323.9 374.4,324.0 375.0,324.0C375.7,324.1 376.4,324.1 377.0,324.1C377.7,324.1 378.4,324.2 379.0,324.2C379.7,324.2 380.4,324.2 381.0,324.3C381.7,324.3 382.4,324.3 383.0,324.4C383.7,324.4 384.7,324.5 385.0,324.5Z"/><path id="pO" d="M211.4,324.5C211.7,324.5 212.6,324.4 213.3,324.4C213.9,324.3 214.6,324.3 215.2,324.2C215.9,324.1 216.5,324.0 217.2,323.9C217.8,323.8 218.5,323.7 219.2,323.6C219.8,323.5 220.5,323.3 221.2,323.2C221.8,323.0 222.5,322.9 223.1,322.7C223.8,322.5 224.5,322.4 225.1,322.2C225.8,322.0 226.5,321.7 227.1,321.5C227.8,321.3 228.4,321.0 229.0,320.8C229.7,320.5 230.3,320.3 230.9,320.0C231.6,319.7 232.2,319.4 232.8,319.1C233.4,318.8 234.0,318.5 234.6,318.1C235.2,317.8 235.7,317.4 236.3,317.0C236.8,316.7 237.4,316.3 237.9,315.9C238.4,315.5 239.0,315.1 239.5,314.6C240.0,314.2 240.4,313.7 240.9,313.3C241.4,312.8 241.8,312.3 242.2,311.8C242.7,311.4 243.1,310.8 243.5,310.3C243.9,309.8 244.2,309.3 244.6,308.7C245.0,308.2 245.4,307.6 245.7,307.1C246.1,306.5 246.4,306.0 246.7,305.4C247.1,304.8 247.4,304.2 247.7,303.6C248.0,303.0 248.3,302.4 248.6,301.8C248.9,301.2 249.2,300.6 249.5,300.0C249.8,299.4 250.1,298.8 250.4,298.2C250.7,297.6 251.0,297.0 251.3,296.4C251.6,295.8 251.8,295.2 252.1,294.6C252.4,293.9 252.7,293.3 253.0,292.7C253.3,292.1 253.6,291.5 253.9,290.9C254.2,290.3 254.5,289.7 254.7,289.1C255.0,288.5 255.3,287.9 255.6,287.3C255.9,286.7 256.2,286.1 256.5,285.5C256.8,284.9 257.0,284.3 257.3,283.6C257.6,283.0 257.9,282.4 258.2,281.8C258.5,281.2 258.8,280.6 259.1,280.0C259.3,279.4 259.6,278.8 259.9,278.2C260.2,277.6 260.5,277.0 260.8,276.4C261.1,275.8 261.3,275.2 261.6,274.6C261.9,274.0 262.2,273.4 262.5,272.8C262.8,272.2 263.0,271.6 263.3,271.0C263.6,270.4 263.9,269.8 264.2,269.2C264.4,268.6 264.7,267.9 265.0,267.3C265.3,266.7 265.5,266.1 265.8,265.5C266.1,264.9 266.4,264.3 266.6,263.7C266.9,263.1 267.2,262.5 267.5,261.9C267.7,261.3 268.0,260.7 268.3,260.1C268.5,259.4 268.8,258.8 269.1,258.2C269.4,257.6 269.6,257.0 269.9,256.4C270.1,255.8 270.4,255.2 270.7,254.6C270.9,253.9 271.2,253.3 271.5,252.7C271.7,252.1 272.0,251.5 272.2,250.9C272.5,250.3 272.8,249.6 273.0,249.0C273.3,248.4 273.5,247.8 273.8,247.2C274.0,246.6 274.3,245.9 274.5,245.3C274.8,244.7 275.0,244.1 275.3,243.5C275.5,242.8 275.8,242.2 276.0,241.6C276.3,241.0 276.5,240.4 276.7,239.7C277.0,239.1 277.2,238.5 277.5,237.9C277.7,237.2 277.9,236.6 278.2,236.0C278.4,235.4 278.7,234.8 278.9,234.1C279.1,233.5 279.4,232.9 279.6,232.3C279.8,231.6 280.1,231.0 280.3,230.4C280.5,229.7 280.7,229.1 281.0,228.5C281.2,227.9 281.4,227.2 281.6,226.6C281.9,226.0 282.1,225.3 282.3,224.7C282.5,224.1 282.7,223.5 283.0,222.8C283.2,222.2 283.4,221.6 283.6,220.9C283.8,220.3 284.0,219.7 284.2,219.0C284.4,218.4 284.6,217.8 284.9,217.1C285.1,216.5 285.3,215.9 285.5,215.2C285.7,214.6 285.9,214.0 286.1,213.3C286.3,212.7 286.5,212.0 286.7,211.4C286.9,210.8 287.1,210.1 287.3,209.5C287.4,208.9 287.6,208.2 287.8,207.6C288.0,206.9 288.2,206.3 288.4,205.7C288.6,205.0 288.8,204.4 288.9,203.7C289.1,203.1 289.3,202.5 289.5,201.8C289.7,201.2 289.8,200.5 290.0,199.9C290.2,199.2 290.4,198.6 290.5,198.0C290.7,197.3 290.9,196.7 291.0,196.0C291.2,195.4 291.4,194.7 291.5,194.1C291.7,193.4 291.9,192.8 292.0,192.1C292.2,191.5 292.3,190.9 292.5,190.2C292.6,189.6 292.8,188.9 293.0,188.3C293.1,187.6 293.3,187.0 293.4,186.3C293.5,185.7 293.7,185.0 293.8,184.4C294.0,183.7 294.1,183.1 294.3,182.4C294.4,181.8 294.5,181.1 294.7,180.5C294.8,179.8 294.9,179.1 295.1,178.5C295.2,177.8 295.3,177.2 295.5,176.5C295.6,175.9 295.7,175.2 295.9,174.6C296.0,173.9 296.1,173.3 296.2,172.6C296.3,172.0 296.5,171.3 296.6,170.6C296.7,170.0 296.8,169.3 296.9,168.7C297.1,168.0 297.2,167.4 297.3,166.7C297.4,166.0 297.5,165.4 297.6,164.7C297.8,164.1 297.9,163.4 298.0,162.8C298.1,162.1 298.2,161.4 298.3,160.8C298.4,160.1 298.5,159.5 298.6,158.8C298.8,158.1 298.9,157.5 299.0,156.8C299.1,156.2 299.2,155.5 299.3,154.8C299.4,154.2 299.5,153.5 299.6,152.9C299.7,152.2 299.8,151.5 299.9,150.9C300.0,150.2 300.1,149.6 300.2,148.9C300.3,148.2 300.4,147.6 300.5,146.9C300.7,146.3 300.8,145.6 300.9,144.9C301.0,144.3 301.1,143.6 301.2,143.0C301.3,142.3 301.4,141.6 301.5,141.0C301.6,140.3 301.7,139.7 301.8,139.0C301.9,138.3 302.0,137.7 302.1,137.0C302.2,136.4 302.3,135.7 302.4,135.0C302.5,134.4 302.6,133.7 302.7,133.1C302.9,132.4 303.0,131.7 303.1,131.1C303.2,130.4 303.3,129.7 303.4,129.1C303.5,128.4 303.6,127.8 303.7,127.1C303.8,126.4 304.0,125.8 304.1,125.1C304.2,124.5 304.3,123.8 304.4,123.2C304.5,122.5 304.6,121.8 304.8,121.2C304.9,120.5 305.0,119.9 305.1,119.2C305.2,118.5 305.4,117.9 305.5,117.2C305.6,116.6 305.7,115.9 305.9,115.2C306.0,114.6 306.1,113.9 306.2,113.3C306.4,112.6 306.5,112.0 306.6,111.3C306.8,110.6 306.9,110.0 307.0,109.3C307.2,108.7 307.3,108.0 307.4,107.4C307.6,106.7 307.7,106.1 307.9,105.4C308.0,104.7 308.2,104.1 308.3,103.4C308.5,102.8 308.6,102.1 308.8,101.5C308.9,100.8 309.1,100.2 309.2,99.5C309.4,98.9 309.5,98.2 309.7,97.6C309.9,96.9 310.0,96.3 310.2,95.6C310.4,95.0 310.5,94.3 310.7,93.7C310.9,93.0 311.1,92.4 311.3,91.8C311.4,91.1 311.6,90.5 311.8,89.8C312.0,89.2 312.2,88.6 312.4,87.9C312.6,87.3 312.8,86.7 313.1,86.1C313.3,85.4 313.5,84.8 313.7,84.2C313.9,83.6 314.2,82.9 314.4,82.3C314.6,81.7 314.9,81.1 315.1,80.5C315.4,79.9 315.6,79.2 315.9,78.6C316.1,78.0 316.4,77.4 316.7,76.8C317.0,76.2 317.2,75.6 317.5,75.0C317.8,74.4 318.1,73.9 318.4,73.3C318.7,72.7 319.0,72.1 319.3,71.5C319.6,70.9 320.0,70.4 320.3,69.8C320.6,69.2 321.0,68.7 321.3,68.1C321.7,67.5 322.0,67.0 322.4,66.4C322.8,65.9 323.1,65.3 323.5,64.8C323.9,64.2 324.3,63.7 324.7,63.2C325.0,62.6 325.4,62.1 325.8,61.5C326.2,61.0 326.6,60.5 327.0,59.9C327.4,59.4 327.8,58.9 328.2,58.3C328.6,57.8 329.0,57.3 329.4,56.7C329.8,56.2 330.2,55.6 330.6,55.1C330.9,54.6 331.3,54.0 331.7,53.5C332.1,52.9 332.4,52.4 332.8,51.8C333.2,51.3 333.5,50.7 333.8,50.1C334.2,49.6 334.5,49.0 334.8,48.4C335.2,47.9 335.5,47.3 335.8,46.7C336.1,46.1 336.3,45.5 336.6,44.9C336.9,44.3 337.1,43.7 337.4,43.1C337.6,42.5 337.8,41.8 338.0,41.2C338.2,40.6 338.4,39.9 338.6,39.3C338.8,38.6 338.9,37.9 339.0,37.3C339.2,36.6 339.3,35.9 339.4,35.3C339.6,34.6 339.7,33.9 339.8,33.2C339.9,32.5 340.1,31.9 340.2,31.2C340.3,30.5 340.4,29.8 340.6,29.2C340.7,28.5 340.9,27.8 341.0,27.2C341.2,26.5 341.4,25.9 341.6,25.2C341.8,24.6 342.0,23.9 342.3,23.3C342.5,22.7 342.8,22.0 343.2,21.4C343.6,20.8 343.9,20.2 344.4,19.6C344.9,19.0 345.4,18.4 346.0,17.9C346.5,17.3 347.2,16.7 347.8,16.4C348.3,16.0 348.9,15.7 349.4,15.7C349.9,15.7 350.3,15.9 350.7,16.3C351.0,16.6 351.3,17.2 351.5,17.8C351.8,18.3 352.0,19.0 352.2,19.6C352.5,20.3 352.7,20.9 352.9,21.5C353.1,22.2 353.4,22.8 353.6,23.4C353.8,24.1 354.0,24.7 354.2,25.3C354.4,26.0 354.6,26.6 354.8,27.3C355.0,27.9 355.2,28.5 355.4,29.2C355.6,29.8 355.7,30.5 355.9,31.1C356.1,31.8 356.3,32.4 356.5,33.0C356.6,33.7 356.8,34.3 357.0,35.0C357.1,35.6 357.3,36.3 357.4,36.9C357.6,37.6 357.7,38.2 357.9,38.9C358.1,39.5 358.2,40.2 358.3,40.8C358.5,41.5 358.6,42.1 358.8,42.8C358.9,43.4 359.0,44.1 359.2,44.7C359.3,45.4 359.4,46.0 359.6,46.7C359.7,47.3 359.8,48.0 359.9,48.7C360.0,49.3 360.2,50.0 360.3,50.6C360.4,51.3 360.5,51.9 360.6,52.6C360.7,53.3 360.8,53.9 360.9,54.6C361.1,55.2 361.2,55.9 361.3,56.5C361.4,57.2 361.5,57.9 361.6,58.5C361.7,59.2 361.8,59.8 361.9,60.5C362.0,61.2 362.0,61.8 362.1,62.5C362.2,63.2 362.3,63.8 362.4,64.5C362.5,65.1 362.6,65.8 362.7,66.5C362.8,67.1 362.8,67.8 362.9,68.5C363.0,69.1 363.1,69.8 363.2,70.5C363.3,71.1 363.3,71.8 363.4,72.4C363.5,73.1 363.6,73.8 363.7,74.4C363.7,75.1 363.8,75.8 363.9,76.4C364.0,77.1 364.0,77.8 364.1,78.4C364.2,79.1 364.3,79.8 364.3,80.4C364.4,81.1 364.5,81.8 364.6,82.4C364.6,83.1 364.7,83.8 364.8,84.4C364.9,85.1 365.0,85.8 365.0,86.4C365.1,87.1 365.2,87.7 365.3,88.4C365.3,89.1 365.4,89.7 365.5,90.4C365.6,91.1 365.6,91.7 365.7,92.4C365.8,93.1 365.9,93.7 365.9,94.4C366.0,95.1 366.1,95.7 366.2,96.4C366.3,97.1 366.3,97.7 366.4,98.4C366.5,99.1 366.6,99.7 366.7,100.4C366.7,101.1 366.8,101.7 366.9,102.4C367.0,103.1 367.1,103.7 367.1,104.4C367.2,105.0 367.3,105.7 367.4,106.4C367.5,107.0 367.6,107.7 367.7,108.4C367.7,109.0 367.8,109.7 367.9,110.4C368.0,111.0 368.1,111.7 368.2,112.3C368.3,113.0 368.4,113.7 368.5,114.3C368.6,115.0 368.6,115.7 368.7,116.3C368.8,117.0 368.9,117.6 369.0,118.3C369.1,119.0 369.2,119.6 369.3,120.3C369.4,121.0 369.5,121.6 369.6,122.3C369.7,122.9 369.8,123.6 369.9,124.3C370.0,124.9 370.1,125.6 370.2,126.2C370.4,126.9 370.5,127.6 370.6,128.2C370.7,128.9 370.8,129.5 370.9,130.2C371.0,130.8 371.1,131.5 371.3,132.2C371.4,132.8 371.5,133.5 371.6,134.1C371.7,134.8 371.8,135.4 372.0,136.1C372.1,136.8 372.2,137.4 372.3,138.1C372.5,138.7 372.6,139.4 372.7,140.0C372.9,140.7 373.0,141.3 373.1,142.0C373.3,142.6 373.4,143.3 373.5,143.9C373.7,144.6 373.8,145.2 373.9,145.9C374.1,146.5 374.2,147.2 374.4,147.9C374.5,148.5 374.7,149.2 374.8,149.8C375.0,150.5 375.1,151.1 375.3,151.8C375.4,152.4 375.6,153.0 375.7,153.7C375.9,154.3 376.0,155.0 376.2,155.6C376.3,156.3 376.5,156.9 376.7,157.6C376.8,158.2 377.0,158.9 377.1,159.5C377.3,160.2 377.5,160.8 377.6,161.5C377.8,162.1 378.0,162.8 378.1,163.4C378.3,164.0 378.5,164.7 378.6,165.3C378.8,166.0 379.0,166.6 379.1,167.3C379.3,167.9 379.5,168.6 379.7,169.2C379.8,169.8 380.0,170.5 380.2,171.1C380.4,171.8 380.5,172.4 380.7,173.1C380.9,173.7 381.1,174.3 381.2,175.0C381.4,175.6 381.6,176.3 381.8,176.9C382.0,177.6 382.1,178.2 382.3,178.8C382.5,179.5 382.7,180.1 382.9,180.8C383.1,181.4 383.2,182.1 383.4,182.7C383.6,183.3 383.8,184.0 384.0,184.6C384.2,185.3 384.4,185.9 384.5,186.5C384.7,187.2 384.9,187.8 385.1,188.5C385.3,189.1 385.5,189.7 385.7,190.4C385.9,191.0 386.0,191.7 386.2,192.3C386.4,193.0 386.6,193.6 386.8,194.2C387.0,194.9 387.2,195.5 387.4,196.2C387.6,196.8 387.8,197.4 387.9,198.1C388.1,198.7 388.3,199.4 388.5,200.0C388.7,200.6 388.9,201.3 389.1,201.9C389.3,202.6 389.5,203.2 389.7,203.8C389.8,204.5 390.0,205.1 390.2,205.8C390.4,206.4 390.6,207.0 390.8,207.7C391.0,208.3 391.2,209.0 391.4,209.6C391.6,210.2 391.8,210.9 391.9,211.5C392.1,212.2 392.3,212.8 392.5,213.5C392.7,214.1 392.9,214.7 393.1,215.4C393.3,216.0 393.5,216.7 393.6,217.3C393.8,217.9 394.0,218.6 394.2,219.2C394.4,219.9 394.6,220.5 394.8,221.2C394.9,221.8 395.1,222.4 395.3,223.1C395.5,223.7 395.7,224.4 395.9,225.0C396.1,225.6 396.2,226.3 396.4,226.9C396.6,227.6 396.8,228.2 397.0,228.9C397.1,229.5 397.3,230.2 397.5,230.8C397.7,231.4 397.9,232.1 398.0,232.7C398.2,233.4 398.4,234.0 398.6,234.7C398.7,235.3 398.9,236.0 399.1,236.6C399.2,237.2 399.4,237.9 399.6,238.5C399.8,239.2 399.9,239.8 400.1,240.5C400.3,241.1 400.4,241.8 400.6,242.4C400.8,243.1 400.9,243.7 401.1,244.4C401.3,245.0 401.4,245.7 401.6,246.3C401.7,247.0 401.9,247.6 402.1,248.3C402.2,248.9 402.4,249.6 402.5,250.2C402.7,250.9 402.9,251.5 403.0,252.2C403.2,252.8 403.3,253.5 403.5,254.1C403.7,254.8 403.8,255.4 404.0,256.0C404.1,256.7 404.3,257.3 404.5,258.0C404.6,258.6 404.8,259.3 405.0,259.9C405.1,260.6 405.3,261.2 405.5,261.9C405.7,262.5 405.8,263.1 406.0,263.8C406.2,264.4 406.4,265.1 406.6,265.7C406.8,266.3 406.9,267.0 407.1,267.6C407.3,268.3 407.5,268.9 407.7,269.5C407.9,270.2 408.1,270.8 408.4,271.4C408.6,272.1 408.8,272.7 409.0,273.3C409.2,273.9 409.5,274.6 409.7,275.2C409.9,275.8 410.2,276.4 410.4,277.0C410.7,277.7 410.9,278.3 411.2,278.9C411.4,279.5 411.7,280.1 412.0,280.7C412.2,281.3 412.5,282.0 412.8,282.6C413.1,283.2 413.4,283.8 413.7,284.4C414.0,285.0 414.3,285.6 414.6,286.2C414.9,286.8 415.3,287.3 415.6,287.9C415.9,288.5 416.3,289.1 416.7,289.7C417.0,290.2 417.4,290.8 417.8,291.4C418.2,291.9 418.6,292.4 419.0,292.9C419.4,293.4 419.9,293.9 420.3,294.4C420.8,294.9 421.3,295.3 421.8,295.7C422.3,296.1 422.8,296.5 423.3,296.9C423.9,297.2 424.5,297.5 425.1,297.8C425.7,298.1 426.3,298.3 427.0,298.5C427.6,298.7 428.3,298.8 429.0,299.0C429.7,299.2 430.4,299.3 431.1,299.5C431.8,299.6 432.4,299.8 433.1,300.0C433.7,300.3 434.3,300.5 434.9,300.8C435.5,301.1 436.1,301.4 436.6,301.7C437.2,302.1 437.7,302.4 438.3,302.8C438.8,303.2 439.3,303.6 439.8,304.0C440.4,304.4 440.9,304.9 441.4,305.3C441.9,305.7 442.4,306.1 443.0,306.6C443.5,307.0 444.0,307.4 444.5,307.9C445.0,308.3 445.6,308.7 446.1,309.2C446.6,309.6 447.1,310.0 447.7,310.4C448.2,310.8 448.7,311.2 449.3,311.6C449.8,312.0 450.4,312.4 451.0,312.7C451.5,313.1 452.1,313.4 452.7,313.8C453.2,314.1 453.8,314.4 454.4,314.6C455.0,314.9 455.6,315.2 456.2,315.4C456.9,315.6 457.5,315.8 458.1,316.0C458.8,316.2 459.4,316.4 460.0,316.6C460.7,316.7 461.3,316.9 462.0,317.0C462.6,317.2 463.3,317.3 464.0,317.5C464.6,317.6 465.3,317.7 465.9,317.9C466.6,318.0 467.3,318.1 467.9,318.3C468.6,318.4 469.3,318.5 469.9,318.7C470.6,318.8 471.2,319.0 471.9,319.1C472.5,319.3 473.2,319.4 473.8,319.6C474.5,319.7 475.1,319.9 475.8,320.1C476.4,320.3 477.1,320.4 477.7,320.6C478.4,320.8 479.0,321.0 479.6,321.1C480.3,321.3 480.9,321.5 481.6,321.7C482.2,321.8 482.8,322.0 483.5,322.2C484.1,322.3 484.8,322.5 485.4,322.7C486.1,322.8 486.7,323.0 487.3,323.1C488.0,323.3 488.6,323.4 489.3,323.6C489.9,323.7 490.6,323.8 491.2,323.9C491.9,324.1 492.5,324.2 493.2,324.3C493.8,324.4 494.5,324.5 495.2,324.5C495.8,324.5 496.5,324.5 497.1,324.5C497.8,324.5 498.5,324.5 499.1,324.5C499.8,324.5 500.5,324.5 501.2,324.5C501.9,324.5 502.5,324.5 503.2,324.5C503.9,324.5 505.0,324.5 505.3,324.5Z"/><clipPath id="cB"><use href="#pB"/></clipPath><clipPath id="cP"><use href="#pP"/></clipPath><clipPath id="cG"><use href="#pG"/></clipPath><clipPath id="cO"><use href="#pO"/></clipPath></defs>
<rect width="685" height="399" fill="#fff"/>
<use href="#pB" fill="#A5D2FD"/>
<use href="#pB" fill="none" stroke="#66B4F8" stroke-width="1.35" stroke-linejoin="round"/>
<use href="#pP" fill="#C5A8D7"/>
<use href="#pP" fill="none" stroke="#A876C8" stroke-width="1.35" stroke-linejoin="round"/>
<use href="#pG" fill="#A5D4AF"/>
<g clip-path="url(#cB)"><use href="#pG" fill="#5EB5B0"/></g>
<g clip-path="url(#cG)"><use href="#pB" fill="none" stroke="#28A3B8" stroke-width="1.35" stroke-linejoin="round"/></g>
<use href="#pG" fill="none" stroke="#6CBF8A" stroke-width="1.35" stroke-linejoin="round"/>
<g clip-path="url(#cB)"><use href="#pG" fill="none" stroke="#22A274" stroke-width="1.35" stroke-linejoin="round"/></g>
<path d="M109.3,324.5H211.4" stroke="#1A9C92" stroke-width="1.7"/>
<use href="#pO" fill="#FDD3AB"/>
<g clip-path="url(#cB)"><use href="#pO" fill="#D9B8B2"/></g>
<g clip-path="url(#cP)"><use href="#pO" fill="#EAA18F"/></g>
<g clip-path="url(#cG)"><use href="#pO" fill="#BDA878"/></g>
<g clip-path="url(#cP)"><g clip-path="url(#cB)"><use href="#pO" fill="#C8909F"/></g></g>
<g clip-path="url(#cP)"><g clip-path="url(#cG)"><use href="#pO" fill="#B88E72"/></g></g>
<g clip-path="url(#cO)"><use href="#pB" fill="none" stroke="#C3A6B6" stroke-width="1.05" stroke-linejoin="round"/></g>
<g clip-path="url(#cG)"><g clip-path="url(#cO)"><use href="#pB" fill="none" stroke="#AE9A78" stroke-width="1.00" stroke-linejoin="round"/></g></g>
<g clip-path="url(#cP)"><g clip-path="url(#cO)"><use href="#pB" fill="none" stroke="#C48A98" stroke-width="1.00" stroke-linejoin="round"/></g></g>
<g clip-path="url(#cO)"><use href="#pP" fill="none" stroke="#D8848A" stroke-width="1.10" stroke-linejoin="round"/></g>
<g clip-path="url(#cG)"><g clip-path="url(#cO)"><use href="#pP" fill="none" stroke="#A88068" stroke-width="1.00" stroke-linejoin="round"/></g></g>
<g clip-path="url(#cO)"><use href="#pG" fill="none" stroke="#A8A04C" stroke-width="1.05" stroke-linejoin="round"/></g>
<path d="M151.4,324.5V330.8M161.2,324.5V330.8M166.0,324.5V330.8M167.6,324.5V330.8M171.1,324.5V330.8M175.9,324.5V330.8M176.3,324.5V330.8M178.8,324.5V330.8M182.9,324.5V330.8M184.3,324.5V330.8M185.8,324.5V330.8M188.1,324.5V330.8M190.4,324.5V330.8M191.5,324.5V330.8M193.2,324.5V330.8M196.3,324.5V330.8M198.0,324.5V330.8M199.6,324.5V330.8M202.1,324.5V330.8M203.5,324.5V330.8M206.3,324.5V330.8M206.7,324.5V330.8M209.4,324.5V330.8M211.3,324.5V330.8M213.1,324.5V330.8M215.7,324.5V330.8M217.1,324.5V330.8M220.5,324.5V330.8M222.9,324.5V330.8M223.5,324.5V330.8M226.5,324.5V330.8M228.3,324.5V330.8M230.1,324.5V330.8M234.2,324.5V330.8M235.4,324.5V330.8M237.0,324.5V330.8M240.4,324.5V330.8M241.6,324.5V330.8M245.5,324.5V330.8M246.2,324.5V330.8M248.2,324.5V330.8M251.1,324.5V330.8M254.1,324.5V330.8M257.2,324.5V330.8M261.5,324.5V330.8M263.9,324.5V330.8M266.0,324.5V330.8M268.2,324.5V330.8M272.0,324.5V330.8M278.6,324.5V330.8M280.4,324.5V330.8M285.9,324.5V330.8M287.9,324.5V330.8M294.5,324.5V330.8M323.9,324.5V330.8" stroke="rgba(30,144,255,0.80)" stroke-width="1" fill="none"/>
<path d="M151.4,318.2V324.5M161.2,318.2V324.5M166.0,318.2V324.5M167.6,318.2V324.5M171.1,318.2V324.5M175.9,318.2V324.5M176.3,318.2V324.5M178.8,318.2V324.5M182.9,318.2V324.5M184.3,318.2V324.5M185.8,318.2V324.5M188.1,318.2V324.5M190.4,318.2V324.5M191.5,318.2V324.5M193.2,318.2V324.5M196.3,318.2V324.5M198.0,318.2V324.5M199.6,318.2V324.5M202.1,318.2V324.5M203.5,318.2V324.5M206.3,318.2V324.5M206.7,318.2V324.5M209.4,318.2V324.5M211.3,318.2V324.5M213.1,318.2V324.5M215.7,318.2V324.5M217.1,318.2V324.5M220.5,318.2V324.5M222.9,318.2V324.5M223.5,318.2V324.5M226.5,318.2V324.5M228.3,318.2V324.5M230.1,318.2V324.5M234.2,318.2V324.5M235.4,318.2V324.5M237.0,318.2V324.5M240.4,318.2V324.5M241.6,318.2V324.5M245.5,318.2V324.5M246.2,318.2V324.5M248.2,318.2V324.5M251.1,318.2V324.5M254.1,318.2V324.5M257.2,318.2V324.5M261.5,318.2V324.5M263.9,318.2V324.5M266.0,318.2V324.5M268.2,318.2V324.5M272.0,318.2V324.5M278.6,318.2V324.5M280.4,318.2V324.5M285.9,318.2V324.5M287.9,318.2V324.5M294.5,318.2V324.5M323.9,318.2V324.5" stroke="rgba(30,144,255,0.40)" stroke-width="1" fill="none"/>
<path d="M390.9,324.5V330.8M422.5,324.5V330.8M424.4,324.5V330.8M427.7,324.5V330.8M447.4,324.5V330.8M448.7,324.5V330.8M450.0,324.5V330.8M457.9,324.5V330.8M469.6,324.5V330.8M472.4,324.5V330.8M473.3,324.5V330.8M478.3,324.5V330.8M492.2,324.5V330.8M501.7,324.5V330.8M508.2,324.5V330.8M511.6,324.5V330.8M514.8,324.5V330.8M515.3,324.5V330.8M515.8,324.5V330.8M516.3,324.5V330.8M516.8,324.5V330.8M517.3,324.5V330.8M517.7,324.5V330.8M520.7,324.5V330.8M521.8,324.5V330.8M524.3,324.5V330.8M524.8,324.5V330.8M525.5,324.5V330.8M526.2,324.5V330.8M526.8,324.5V330.8M527.4,324.5V330.8M528.0,324.5V330.8M528.7,324.5V330.8M530.9,324.5V330.8M532.3,324.5V330.8M538.2,324.5V330.8M539.6,324.5V330.8M544.3,324.5V330.8M547.7,324.5V330.8M549.1,324.5V330.8M550.6,324.5V330.8M552.5,324.5V330.8M575.4,324.5V330.8M577.3,324.5V330.8" stroke="rgba(140,60,190,0.60)" stroke-width="1" fill="none"/>
<path d="M492.2,318.2V324.5M501.7,318.2V324.5M508.2,318.2V324.5M511.6,318.2V324.5M514.8,318.2V324.5M515.3,318.2V324.5M515.8,318.2V324.5M516.3,318.2V324.5M516.8,318.2V324.5M517.3,318.2V324.5M517.7,318.2V324.5M520.7,318.2V324.5M521.8,318.2V324.5M524.3,318.2V324.5M524.8,318.2V324.5M525.5,318.2V324.5M526.2,318.2V324.5M526.8,318.2V324.5M527.4,318.2V324.5M528.0,318.2V324.5M528.7,318.2V324.5M530.9,318.2V324.5M532.3,318.2V324.5M538.2,318.2V324.5M539.6,318.2V324.5M544.3,318.2V324.5M547.7,318.2V324.5M549.1,318.2V324.5M550.6,318.2V324.5M552.5,318.2V324.5M575.4,318.2V324.5M577.3,318.2V324.5" stroke="rgba(140,60,190,0.60)" stroke-width="1" fill="none"/>
<path d="M390.9,318.2V324.5M422.5,318.2V324.5M424.4,318.2V324.5M427.7,318.2V324.5M447.4,318.2V324.5M448.7,318.2V324.5M450.0,318.2V324.5M457.9,318.2V324.5M469.6,318.2V324.5M472.4,318.2V324.5M473.3,318.2V324.5M478.3,318.2V324.5" stroke="rgba(140,60,190,0.30)" stroke-width="1" fill="none"/>
<path d="M127.4,324.5V330.8M136.9,324.5V330.8M137.4,324.5V330.8M141.4,324.5V330.8M146.5,324.5V330.8M150.5,324.5V330.8M152.2,324.5V330.8M155.2,324.5V330.8M161.2,324.5V330.8M163.2,324.5V330.8M164.3,324.5V330.8M169.6,324.5V330.8M172.5,324.5V330.8M173.3,324.5V330.8M177.2,324.5V330.8M177.9,324.5V330.8M181.3,324.5V330.8M184.7,324.5V330.8M186.1,324.5V330.8M188.8,324.5V330.8M190.3,324.5V330.8M194.4,324.5V330.8M196.0,324.5V330.8M197.8,324.5V330.8M201.4,324.5V330.8M204.3,324.5V330.8M205.6,324.5V330.8M208.4,324.5V330.8M211.3,324.5V330.8M211.4,324.5V330.8M214.9,324.5V330.8M217.9,324.5V330.8M218.3,324.5V330.8M220.7,324.5V330.8M223.6,324.5V330.8M226.1,324.5V330.8M228.0,324.5V330.8M230.2,324.5V330.8M231.3,324.5V330.8M235.2,324.5V330.8M236.7,324.5V330.8M238.5,324.5V330.8M243.6,324.5V330.8M245.7,324.5V330.8M248.2,324.5V330.8M252.4,324.5V330.8M255.0,324.5V330.8M257.4,324.5V330.8M263.6,324.5V330.8M269.5,324.5V330.8M275.6,324.5V330.8M281.5,324.5V330.8M298.6,324.5V330.8" stroke="rgba(0,150,70,0.80)" stroke-width="1" fill="none"/>
<path d="M127.4,318.2V324.5M136.9,318.2V324.5M137.4,318.2V324.5M141.4,318.2V324.5M146.5,318.2V324.5M150.5,318.2V324.5M152.2,318.2V324.5M155.2,318.2V324.5M161.2,318.2V324.5M163.2,318.2V324.5M164.3,318.2V324.5M169.6,318.2V324.5M172.5,318.2V324.5M173.3,318.2V324.5M177.2,318.2V324.5M177.9,318.2V324.5M181.3,318.2V324.5M184.7,318.2V324.5M186.1,318.2V324.5M188.8,318.2V324.5M190.3,318.2V324.5M194.4,318.2V324.5M196.0,318.2V324.5M197.8,318.2V324.5M201.4,318.2V324.5M204.3,318.2V324.5M205.6,318.2V324.5M208.4,318.2V324.5M211.3,318.2V324.5M211.4,318.2V324.5M214.9,318.2V324.5M217.9,318.2V324.5M218.3,318.2V324.5M220.7,318.2V324.5M223.6,318.2V324.5" stroke="rgba(0,150,70,0.80)" stroke-width="1" fill="none"/>
<path d="M226.1,318.2V324.5M228.0,318.2V324.5M230.2,318.2V324.5M231.3,318.2V324.5M235.2,318.2V324.5M236.7,318.2V324.5M238.5,318.2V324.5M243.6,318.2V324.5M245.7,318.2V324.5M248.2,318.2V324.5M252.4,318.2V324.5M255.0,318.2V324.5M257.4,318.2V324.5M263.6,318.2V324.5M269.5,318.2V324.5M275.6,318.2V324.5M281.5,318.2V324.5M298.6,318.2V324.5" stroke="rgba(0,150,70,0.40)" stroke-width="1" fill="none"/>
<use href="#pO" fill="none" stroke="#FCB87A" stroke-width="1.35" stroke-linejoin="round"/>
<g clip-path="url(#cB)"><use href="#pO" fill="none" stroke="#E6A058" stroke-width="1.05" stroke-linejoin="round"/></g>
<g clip-path="url(#cG)"><use href="#pO" fill="none" stroke="#E6A058" stroke-width="1.05" stroke-linejoin="round"/></g>
<g clip-path="url(#cP)"><use href="#pO" fill="none" stroke="#F39A5A" stroke-width="1.35" stroke-linejoin="round"/></g>
<path d="M211.4,324.5H505.3" stroke="#F2923C" stroke-width="1.6"/>
<path d="M250.1,324.5V330.8M255.2,324.5V330.8M264.0,324.5V330.8M269.6,324.5V330.8M272.9,324.5V330.8M276.3,324.5V330.8M280.4,324.5V330.8M283.3,324.5V330.8M285.4,324.5V330.8M288.4,324.5V330.8M291.2,324.5V330.8M291.9,324.5V330.8M295.3,324.5V330.8M297.5,324.5V330.8M298.7,324.5V330.8M300.6,324.5V330.8M301.8,324.5V330.8M304.0,324.5V330.8M306.0,324.5V330.8M306.4,324.5V330.8M308.0,324.5V330.8M310.0,324.5V330.8M310.8,324.5V330.8M311.9,324.5V330.8M313.5,324.5V330.8M314.0,324.5V330.8M315.4,324.5V330.8M317.4,324.5V330.8M317.8,324.5V330.8M318.8,324.5V330.8M321.1,324.5V330.8M322.0,324.5V330.8M323.5,324.5V330.8M324.4,324.5V330.8M325.7,324.5V330.8M326.2,324.5V330.8M327.8,324.5V330.8M328.3,324.5V330.8M330.1,324.5V330.8M331.1,324.5V330.8M331.6,324.5V330.8M332.7,324.5V330.8M333.8,324.5V330.8M335.6,324.5V330.8M336.5,324.5V330.8M337.2,324.5V330.8M338.7,324.5V330.8M339.7,324.5V330.8M340.8,324.5V330.8M342.1,324.5V330.8M342.9,324.5V330.8M343.5,324.5V330.8M344.1,324.5V330.8M345.3,324.5V330.8M346.1,324.5V330.8M347.8,324.5V330.8M348.8,324.5V330.8M349.2,324.5V330.8M350.9,324.5V330.8M351.2,324.5V330.8M352.3,324.5V330.8M353.5,324.5V330.8M354.9,324.5V330.8M355.8,324.5V330.8M356.1,324.5V330.8M357.9,324.5V330.8M358.2,324.5V330.8M359.9,324.5V330.8M360.9,324.5V330.8M361.4,324.5V330.8M362.5,324.5V330.8M364.7,324.5V330.8M364.8,324.5V330.8M366.3,324.5V330.8M368.8,324.5V330.8M369.9,324.5V330.8M371.2,324.5V330.8M372.7,324.5V330.8M374.5,324.5V330.8M376.1,324.5V330.8M377.2,324.5V330.8M379.4,324.5V330.8M381.5,324.5V330.8M384.0,324.5V330.8M386.0,324.5V330.8M389.1,324.5V330.8M391.9,324.5V330.8M394.6,324.5V330.8M396.6,324.5V330.8M399.7,324.5V330.8M408.4,324.5V330.8M415.0,324.5V330.8M430.3,324.5V330.8M434.9,324.5V330.8M436.9,324.5V330.8M445.4,324.5V330.8M469.1,324.5V330.8" stroke="rgba(255,140,0,0.85)" stroke-width="1" fill="none"/>
<path d="M250.1,318.2V324.5M255.2,318.2V324.5M264.0,318.2V324.5M269.6,318.2V324.5M272.9,318.2V324.5M276.3,318.2V324.5M280.4,318.2V324.5M283.3,318.2V324.5M285.4,318.2V324.5M288.4,318.2V324.5M291.2,318.2V324.5M291.9,318.2V324.5M295.3,318.2V324.5M297.5,318.2V324.5M298.7,318.2V324.5M300.6,318.2V324.5M301.8,318.2V324.5M304.0,318.2V324.5M306.0,318.2V324.5M306.4,318.2V324.5M308.0,318.2V324.5M310.0,318.2V324.5M310.8,318.2V324.5M311.9,318.2V324.5M313.5,318.2V324.5M314.0,318.2V324.5M315.4,318.2V324.5M317.4,318.2V324.5M317.8,318.2V324.5M318.8,318.2V324.5M321.1,318.2V324.5M322.0,318.2V324.5M323.5,318.2V324.5M324.4,318.2V324.5M325.7,318.2V324.5M326.2,318.2V324.5M327.8,318.2V324.5M328.3,318.2V324.5M330.1,318.2V324.5M331.1,318.2V324.5M331.6,318.2V324.5M332.7,318.2V324.5M333.8,318.2V324.5M335.6,318.2V324.5M336.5,318.2V324.5M337.2,318.2V324.5M338.7,318.2V324.5M339.7,318.2V324.5M340.8,318.2V324.5M342.1,318.2V324.5M342.9,318.2V324.5M343.5,318.2V324.5M344.1,318.2V324.5M345.3,318.2V324.5M346.1,318.2V324.5M347.8,318.2V324.5M348.8,318.2V324.5M349.2,318.2V324.5M350.9,318.2V324.5M351.2,318.2V324.5M352.3,318.2V324.5M353.5,318.2V324.5M354.9,318.2V324.5M355.8,318.2V324.5M356.1,318.2V324.5M357.9,318.2V324.5M358.2,318.2V324.5M359.9,318.2V324.5M360.9,318.2V324.5M361.4,318.2V324.5M362.5,318.2V324.5M364.7,318.2V324.5M364.8,318.2V324.5M366.3,318.2V324.5M368.8,318.2V324.5M369.9,318.2V324.5M371.2,318.2V324.5M372.7,318.2V324.5M374.5,318.2V324.5M376.1,318.2V324.5M377.2,318.2V324.5M379.4,318.2V324.5M381.5,318.2V324.5M384.0,318.2V324.5M386.0,318.2V324.5M389.1,318.2V324.5M391.9,318.2V324.5M394.6,318.2V324.5M396.6,318.2V324.5M399.7,318.2V324.5M408.4,318.2V324.5M415.0,318.2V324.5M430.3,318.2V324.5M434.9,318.2V324.5M436.9,318.2V324.5M445.4,318.2V324.5M469.1,318.2V324.5" stroke="rgba(255,140,0,0.85)" stroke-width="1" fill="none"/>
<path d="M61.7,3.3V336.9" stroke="#3a3a3a" stroke-width="1.4" fill="none"/>
<path d="M61,3.3H682.6" stroke="#6a6a6a" stroke-width="1.6" fill="none"/>
<path d="M61,336.9H682.6" stroke="#5a5a5a" stroke-width="1.9" fill="none"/>
<path d="M681.9,3.3V336.9" stroke="#858585" stroke-width="1.9" fill="none"/>
<path d="M110.7,336.8V344.6M198.2,336.8V344.6M285.7,336.8V344.6M373.2,336.8V344.6M460.7,336.8V344.6M548.3,336.8V344.6M635.8,336.8V344.6M53.8,324.5H61.6M53.8,258.5H61.6M53.8,192.5H61.6M53.8,126.5H61.6M53.8,60.5H61.6" stroke="#555" stroke-width="1.45" fill="none"/>
<text transform="translate(110.7,365) scale(1,1.080)" text-anchor="middle" class="t">-4</text>
<text transform="translate(198.2,365) scale(1,1.080)" text-anchor="middle" class="t">-2</text>
<text transform="translate(285.7,365) scale(1,1.080)" text-anchor="middle" class="t">0</text>
<text transform="translate(373.2,365) scale(1,1.080)" text-anchor="middle" class="t">2</text>
<text transform="translate(460.7,365) scale(1,1.080)" text-anchor="middle" class="t">4</text>
<text transform="translate(548.3,365) scale(1,1.080)" text-anchor="middle" class="t">6</text>
<text transform="translate(635.8,365) scale(1,1.080)" text-anchor="middle" class="t">8</text>
<text transform="translate(43.5,324.5) rotate(-90) scale(1,1.04)" text-anchor="middle" class="t">0.0</text>
<g transform="translate(43.5,258.5) rotate(-90) scale(1,1.04)"><text text-anchor="middle" class="t">0.<tspan style="fill:none;stroke:none">1</tspan></text><path d="M4.10,-9.60H5.70V0.00H4.10V-7.60C3.40,-6.80 2.50,-6.40 1.50,-6.30V-7.60C2.70,-7.80 3.70,-8.70 4.10,-9.60Z" fill="#111"/></g>
<text transform="translate(43.5,192.5) rotate(-90) scale(1,1.04)" text-anchor="middle" class="t">0.2</text>
<text transform="translate(43.5,126.5) rotate(-90) scale(1,1.04)" text-anchor="middle" class="t">0.3</text>
<text transform="translate(43.5,60.5) rotate(-90) scale(1,1.04)" text-anchor="middle" class="t">0.4</text>
<text transform="translate(371.7,396.5) scale(1,1.05)" text-anchor="middle" class="t">Discriminant function <tspan style="fill:none;stroke:none">1</tspan></text>
<path d="M433.10,386.90H434.70V395.90H433.10V388.90C432.40,389.70 431.50,390.10 430.50,390.20V388.90C431.70,388.70 432.70,387.80 433.10,386.90Z" fill="#111"/>
<text transform="translate(13,170) rotate(-90)" text-anchor="middle" class="t">Density</text>
<rect x="636.9" y="3.3" width="45" height="76.5" fill="#fff" stroke="#707070" stroke-width="1.6" stroke-linejoin="round"/>
<path d="M636.9,3.3H682.6" stroke="#6a6a6a" stroke-width="1.6" fill="none"/>
<path d="M681.9,3.3V336.9" stroke="#858585" stroke-width="1.9" fill="none"/>
<rect x="648.3" y="14.9" width="9.2" height="7.4" fill="#A5D2FD" stroke="#333" stroke-width="1"/>
<path d="M672.40,14.10H674.00V23.40H672.40V16.10C671.70,16.90 670.80,17.30 669.80,17.40V16.10C671.00,15.90 672.00,15.00 672.40,14.10Z" fill="#111"/>
<rect x="648.3" y="30.4" width="9.2" height="7.4" fill="#C5A8D7" stroke="#333" stroke-width="1"/>
<text transform="translate(672.5,38.8) scale(1,1.080)" text-anchor="middle" class="t">2</text>
<rect x="648.3" y="45.9" width="9.2" height="7.4" fill="#A5D4AF" stroke="#333" stroke-width="1"/>
<text transform="translate(672.5,54.3) scale(1,1.080)" text-anchor="middle" class="t">3</text>
<rect x="648.3" y="61.4" width="9.2" height="7.4" fill="#FDD3AB" stroke="#333" stroke-width="1"/>
<text transform="translate(672.5,69.8) scale(1,1.080)" text-anchor="middle" class="t">4</text>
</svg>
</body></html>
